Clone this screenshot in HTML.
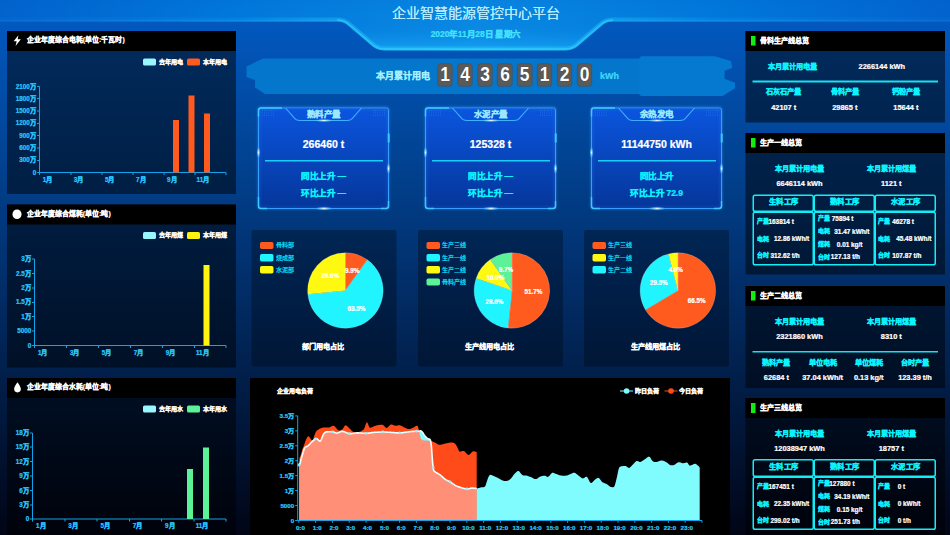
<!DOCTYPE html>
<html lang="zh-CN"><head><meta charset="utf-8"><title>企业智慧能源管控中心平台</title>
<style>
html,body{margin:0;padding:0;width:950px;height:535px;overflow:hidden;background:#010516;}
#root{position:absolute;left:0;top:0;width:1900px;height:1070px;transform:scale(0.5);transform-origin:0 0;overflow:hidden;
 font-family:"Liberation Sans", sans-serif;background:linear-gradient(to bottom,rgb(2,92,198) 0,rgb(1,5,22) 100%);}
#root div,#root svg{position:absolute;box-sizing:border-box;}
.t{white-space:nowrap;overflow:visible;font-weight:400;}
.b{font-weight:700;-webkit-text-stroke:0.45px currentColor;}
</style></head><body><div id="root">
<svg style="left:0px;top:0px" width="1900" height="112" viewBox="0 0 950 56">
<defs>
<linearGradient id="hb" x1="0" y1="0" x2="1" y2="0"><stop offset="0" stop-color="#0262cd"/><stop offset="0.26" stop-color="#0079dc"/><stop offset="0.5" stop-color="#0a88e2"/><stop offset="0.74" stop-color="#0079dc"/><stop offset="1" stop-color="#0262cd"/></linearGradient>
<linearGradient id="hv" x1="0" y1="0" x2="0" y2="1"><stop offset="0" stop-color="#0060c8" stop-opacity="0.12"/><stop offset="0.45" stop-color="#0a80e0" stop-opacity="0"/><stop offset="1" stop-color="#20b8ff" stop-opacity="0.55"/></linearGradient>
<linearGradient id="hs" x1="0" y1="0" x2="1" y2="0"><stop offset="0" stop-color="#1d7fe6" stop-opacity="0.5"/><stop offset="0.3" stop-color="#1aa0f5"/><stop offset="0.5" stop-color="#22d0ff"/><stop offset="0.7" stop-color="#1aa0f5"/><stop offset="1" stop-color="#1d7fe6" stop-opacity="0.5"/></linearGradient>
<linearGradient id="hg" gradientUnits="userSpaceOnUse" x1="0" y1="0" x2="950" y2="0"><stop offset="0" stop-color="#27d2ff" stop-opacity="0.03"/><stop offset="0.25" stop-color="#27d2ff" stop-opacity="0.1"/><stop offset="0.36" stop-color="#27d2ff" stop-opacity="0.35"/><stop offset="0.64" stop-color="#27d2ff" stop-opacity="0.35"/><stop offset="0.75" stop-color="#27d2ff" stop-opacity="0.1"/><stop offset="1" stop-color="#27d2ff" stop-opacity="0.03"/></linearGradient>
</defs>
<path d="M0,0 L950,0 L950,21 L613,21 Q606,21 601,25.5 L577,46 Q572,50 565,50 L385,50 Q378,50 373,46 L349,25.5 Q344,21 337,21 L0,21 Z" fill="url(#hb)"/>
<path d="M0,0 L950,0 L950,21 L613,21 Q606,21 601,25.5 L577,46 Q572,50 565,50 L385,50 Q378,50 373,46 L349,25.5 Q344,21 337,21 L0,21 Z" fill="url(#hv)"/>
<clipPath id="hc"><path d="M0,0 L950,0 L950,21 L613,21 Q606,21 601,25.5 L577,46 Q572,50 565,50 L385,50 Q378,50 373,46 L349,25.5 Q344,21 337,21 L0,21 Z"/></clipPath>
<g clip-path="url(#hc)"><path d="M0,21 L337,21 Q344,21 349,25.5 L373,46 Q378,50 385,50 L565,50 Q572,50 577,46 L601,25.5 Q606,21 613,21 L950,21" fill="none" stroke="url(#hg)" stroke-width="7"/><path d="M337,21 Q344,21 349,25.5 L373,46 Q378,50 385,50 L565,50 Q572,50 577,46 L601,25.5 Q606,21 613,21" fill="none" stroke="#3fe0ff" stroke-opacity="0.55" stroke-width="3.4"/></g>
<path d="M0,21 L337,21 Q344,21 349,25.5 L373,46 Q378,50 385,50 L565,50 Q572,50 577,46 L601,25.5 Q606,21 613,21 L950,21" fill="none" stroke="url(#hs)" stroke-width="1.2"/>
</svg>
<div class="t" style="left:551px;top:7.6px;width:800px;height:36.4px;line-height:36.4px;font-size:28px;color:#b4ebff;text-align:center;text-shadow:0 0 0.6px #b4ebff;">企业智慧能源管控中心平台</div>
<div class="t b" style="left:651.6px;top:56.68px;width:600px;height:21.84px;line-height:21.84px;font-size:16.8px;color:#45e0ff;text-align:center;">2020年11月28日 星期六</div>
<svg style="left:480px;top:104px" width="1000" height="100" viewBox="240 52 500 50">
<path d="M263,58.5 L639,58.5 L641,56.3 L714.5,56.3 L730.8,61 L732.3,67.8 L724.5,70.8 L724.5,78.7 L735,82.8 L735,88.3 L722.6,96 L641,96 L639,94 L265,94 L255,87.5 L255,80 L246.5,77 L246.5,66.5 Z" fill="#0476cc"/>
<path d="M639,58.5 639,58.5 L641,56.3 L714.5,56.3 L730.8,61 L732.3,67.8 L724.5,70.8 L724.5,78.7 L735,82.8 L735,88.3 L722.6,96 L641,96 L639,94 Z" fill="#0a80d6" opacity="0.3"/>
</svg>
<div class="t b" style="left:620px;top:141.3px;width:240px;height:23.4px;line-height:23.4px;font-size:18px;color:#a4f0ff;text-align:right;">本月累计用电</div>
<div style="left:875px;top:126.6px;width:30.4px;height:46.8px;background:#5a5a5a;border:1.2px solid #484848;border-radius:6px;"></div>
<div class="t b" style="left:875.2px;top:121.2px;width:30px;height:52px;line-height:52px;font-size:40px;color:#fff;text-align:center;-webkit-text-stroke:0;transform:scaleX(0.87);text-shadow:0 0 2px rgba(0,0,0,.55);">1</div>
<div style="left:914.8px;top:126.6px;width:30.4px;height:46.8px;background:#5a5a5a;border:1.2px solid #484848;border-radius:6px;"></div>
<div class="t b" style="left:915px;top:121.2px;width:30px;height:52px;line-height:52px;font-size:40px;color:#fff;text-align:center;-webkit-text-stroke:0;transform:scaleX(0.87);text-shadow:0 0 2px rgba(0,0,0,.55);">4</div>
<div style="left:954.6px;top:126.6px;width:30.4px;height:46.8px;background:#5a5a5a;border:1.2px solid #484848;border-radius:6px;"></div>
<div class="t b" style="left:954.8px;top:121.2px;width:30px;height:52px;line-height:52px;font-size:40px;color:#fff;text-align:center;-webkit-text-stroke:0;transform:scaleX(0.87);text-shadow:0 0 2px rgba(0,0,0,.55);">3</div>
<div style="left:994.4px;top:126.6px;width:30.4px;height:46.8px;background:#5a5a5a;border:1.2px solid #484848;border-radius:6px;"></div>
<div class="t b" style="left:994.6px;top:121.2px;width:30px;height:52px;line-height:52px;font-size:40px;color:#fff;text-align:center;-webkit-text-stroke:0;transform:scaleX(0.87);text-shadow:0 0 2px rgba(0,0,0,.55);">6</div>
<div style="left:1034.2px;top:126.6px;width:30.4px;height:46.8px;background:#5a5a5a;border:1.2px solid #484848;border-radius:6px;"></div>
<div class="t b" style="left:1034.4px;top:121.2px;width:30px;height:52px;line-height:52px;font-size:40px;color:#fff;text-align:center;-webkit-text-stroke:0;transform:scaleX(0.87);text-shadow:0 0 2px rgba(0,0,0,.55);">5</div>
<div style="left:1074px;top:126.6px;width:30.4px;height:46.8px;background:#5a5a5a;border:1.2px solid #484848;border-radius:6px;"></div>
<div class="t b" style="left:1074.2px;top:121.2px;width:30px;height:52px;line-height:52px;font-size:40px;color:#fff;text-align:center;-webkit-text-stroke:0;transform:scaleX(0.87);text-shadow:0 0 2px rgba(0,0,0,.55);">1</div>
<div style="left:1113.8px;top:126.6px;width:30.4px;height:46.8px;background:#5a5a5a;border:1.2px solid #484848;border-radius:6px;"></div>
<div class="t b" style="left:1114px;top:121.2px;width:30px;height:52px;line-height:52px;font-size:40px;color:#fff;text-align:center;-webkit-text-stroke:0;transform:scaleX(0.87);text-shadow:0 0 2px rgba(0,0,0,.55);">2</div>
<div style="left:1153.6px;top:126.6px;width:30.4px;height:46.8px;background:#5a5a5a;border:1.2px solid #484848;border-radius:6px;"></div>
<div class="t b" style="left:1153.8px;top:121.2px;width:30px;height:52px;line-height:52px;font-size:40px;color:#fff;text-align:center;-webkit-text-stroke:0;transform:scaleX(0.87);text-shadow:0 0 2px rgba(0,0,0,.55);">0</div>
<div class="t b" style="left:1200px;top:141.3px;width:80px;height:23.4px;line-height:23.4px;font-size:18px;color:#40d8ff;text-align:left;">kWh</div>
<div style="left:516px;top:215px;width:262px;height:203px;background:linear-gradient(to bottom,#0b55de,#05369a);border:2px solid #3a9cff;border-radius:5px;box-shadow:0 0 6px rgba(50,160,255,.7), inset 0 0 8px rgba(40,140,255,.4);"></div>
<svg style="left:516px;top:215px" width="262" height="32" viewBox="258 107.5 131 16">
<path d="M285.5,108 L294,117.7 Q296,120.5 300,120.5 L347,120.5 Q351,120.5 353,117.7 L361.5,108" fill="#0b55de" fill-opacity="0.4" stroke="#3fb0ff" stroke-width="1.1"/>
</svg>
<svg style="left:510px;top:209px;overflow:visible" width="274" height="215" viewBox="0 0 137 107.5">
<defs><radialGradient id="gl258"><stop offset="0" stop-color="#fff" stop-opacity="0.95"/><stop offset="0.35" stop-color="#9fe4ff" stop-opacity="0.7"/><stop offset="1" stop-color="#3fb4ff" stop-opacity="0"/></radialGradient></defs>
<path d="M3.5,12 L3.5,6 Q3.5,3.5 6,3.5 L27,3.5" fill="none" stroke="#3cc8ff" stroke-width="1.5"/>
<path d="M3.5,92.5 L3.5,101.5 Q3.5,104 6,104 L12,104" fill="none" stroke="#3cc8ff" stroke-width="1.5"/>
<path d="M133.5,96.5 L133.5,101.5 Q133.5,104 131,104 L126,104" fill="none" stroke="#3cc8ff" stroke-width="1.5"/>
<path d="M133.7,29 L133.7,38" stroke="#3cc8ff" stroke-width="2"/>
<ellipse cx="3.5" cy="48" rx="2.2" ry="6" fill="url(#gl258)"/>
<ellipse cx="133.5" cy="64" rx="2.2" ry="6" fill="url(#gl258)"/>
<ellipse cx="69" cy="104" rx="9" ry="2.2" fill="url(#gl258)"/>
<ellipse cx="69" cy="16" rx="10" ry="1.8" fill="url(#gl258)"/>
<rect x="7" y="6" width="0.6" height="0.6" fill="#58b8ff" opacity="0.7"/>
<rect x="129" y="6" width="0.6" height="0.6" fill="#58b8ff" opacity="0.7"/>
<rect x="7" y="8.2" width="0.6" height="0.6" fill="#58b8ff" opacity="0.7"/>
<rect x="129" y="8.2" width="0.6" height="0.6" fill="#58b8ff" opacity="0.7"/>
<rect x="7" y="10.4" width="0.6" height="0.6" fill="#58b8ff" opacity="0.7"/>
<rect x="129" y="10.4" width="0.6" height="0.6" fill="#58b8ff" opacity="0.7"/>
<rect x="9.2" y="6" width="0.6" height="0.6" fill="#58b8ff" opacity="0.7"/>
<rect x="126.8" y="6" width="0.6" height="0.6" fill="#58b8ff" opacity="0.7"/>
<rect x="9.2" y="8.2" width="0.6" height="0.6" fill="#58b8ff" opacity="0.7"/>
<rect x="126.8" y="8.2" width="0.6" height="0.6" fill="#58b8ff" opacity="0.7"/>
<rect x="9.2" y="10.4" width="0.6" height="0.6" fill="#58b8ff" opacity="0.7"/>
<rect x="126.8" y="10.4" width="0.6" height="0.6" fill="#58b8ff" opacity="0.7"/>
<rect x="11.4" y="6" width="0.6" height="0.6" fill="#58b8ff" opacity="0.7"/>
<rect x="124.6" y="6" width="0.6" height="0.6" fill="#58b8ff" opacity="0.7"/>
<rect x="11.4" y="8.2" width="0.6" height="0.6" fill="#58b8ff" opacity="0.7"/>
<rect x="124.6" y="8.2" width="0.6" height="0.6" fill="#58b8ff" opacity="0.7"/>
<rect x="11.4" y="10.4" width="0.6" height="0.6" fill="#58b8ff" opacity="0.7"/>
<rect x="124.6" y="10.4" width="0.6" height="0.6" fill="#58b8ff" opacity="0.7"/>
<rect x="13.6" y="6" width="0.6" height="0.6" fill="#58b8ff" opacity="0.7"/>
<rect x="122.4" y="6" width="0.6" height="0.6" fill="#58b8ff" opacity="0.7"/>
<rect x="13.6" y="8.2" width="0.6" height="0.6" fill="#58b8ff" opacity="0.7"/>
<rect x="122.4" y="8.2" width="0.6" height="0.6" fill="#58b8ff" opacity="0.7"/>
<rect x="13.6" y="10.4" width="0.6" height="0.6" fill="#58b8ff" opacity="0.7"/>
<rect x="122.4" y="10.4" width="0.6" height="0.6" fill="#58b8ff" opacity="0.7"/>
<rect x="15.8" y="6" width="0.6" height="0.6" fill="#58b8ff" opacity="0.7"/>
<rect x="120.2" y="6" width="0.6" height="0.6" fill="#58b8ff" opacity="0.7"/>
<rect x="15.8" y="8.2" width="0.6" height="0.6" fill="#58b8ff" opacity="0.7"/>
<rect x="120.2" y="8.2" width="0.6" height="0.6" fill="#58b8ff" opacity="0.7"/>
<rect x="15.8" y="10.4" width="0.6" height="0.6" fill="#58b8ff" opacity="0.7"/>
<rect x="120.2" y="10.4" width="0.6" height="0.6" fill="#58b8ff" opacity="0.7"/>
<rect x="18" y="6" width="0.6" height="0.6" fill="#58b8ff" opacity="0.7"/>
<rect x="118" y="6" width="0.6" height="0.6" fill="#58b8ff" opacity="0.7"/>
<rect x="18" y="8.2" width="0.6" height="0.6" fill="#58b8ff" opacity="0.7"/>
<rect x="118" y="8.2" width="0.6" height="0.6" fill="#58b8ff" opacity="0.7"/>
<rect x="18" y="10.4" width="0.6" height="0.6" fill="#58b8ff" opacity="0.7"/>
<rect x="118" y="10.4" width="0.6" height="0.6" fill="#58b8ff" opacity="0.7"/>
</svg>
<div class="t b" style="left:547px;top:216.55px;width:200px;height:22.1px;line-height:22.1px;font-size:17px;color:#9be9ff;text-align:center;">熟料产量</div>
<div class="t b" style="left:517px;top:274.35px;width:260px;height:27.3px;line-height:27.3px;font-size:21px;color:#fff;text-align:center;">266460 t</div>
<div style="left:530px;top:320.2px;width:236px;height:3px;background:#1ccdfa;"></div>
<div class="t b" style="left:517px;top:340.55px;width:260px;height:22.1px;line-height:22.1px;font-size:17px;color:#0cf4ff;text-align:center;">同比上升 —</div>
<div class="t b" style="left:517px;top:375.15px;width:260px;height:22.1px;line-height:22.1px;font-size:17px;color:#0cf4ff;text-align:center;">环比上升 —</div>
<div style="left:850px;top:215px;width:262px;height:203px;background:linear-gradient(to bottom,#0b55de,#05369a);border:2px solid #3a9cff;border-radius:5px;box-shadow:0 0 6px rgba(50,160,255,.7), inset 0 0 8px rgba(40,140,255,.4);"></div>
<svg style="left:850px;top:215px" width="262" height="32" viewBox="425 107.5 131 16">
<path d="M452.5,108 L461,117.7 Q463,120.5 467,120.5 L514,120.5 Q518,120.5 520,117.7 L528.5,108" fill="#0b55de" fill-opacity="0.4" stroke="#3fb0ff" stroke-width="1.1"/>
</svg>
<svg style="left:844px;top:209px;overflow:visible" width="274" height="215" viewBox="0 0 137 107.5">
<defs><radialGradient id="gl425"><stop offset="0" stop-color="#fff" stop-opacity="0.95"/><stop offset="0.35" stop-color="#9fe4ff" stop-opacity="0.7"/><stop offset="1" stop-color="#3fb4ff" stop-opacity="0"/></radialGradient></defs>
<path d="M3.5,12 L3.5,6 Q3.5,3.5 6,3.5 L27,3.5" fill="none" stroke="#3cc8ff" stroke-width="1.5"/>
<path d="M3.5,92.5 L3.5,101.5 Q3.5,104 6,104 L12,104" fill="none" stroke="#3cc8ff" stroke-width="1.5"/>
<path d="M133.5,96.5 L133.5,101.5 Q133.5,104 131,104 L126,104" fill="none" stroke="#3cc8ff" stroke-width="1.5"/>
<path d="M133.7,29 L133.7,38" stroke="#3cc8ff" stroke-width="2"/>
<ellipse cx="3.5" cy="48" rx="2.2" ry="6" fill="url(#gl425)"/>
<ellipse cx="133.5" cy="64" rx="2.2" ry="6" fill="url(#gl425)"/>
<ellipse cx="69" cy="104" rx="9" ry="2.2" fill="url(#gl425)"/>
<ellipse cx="69" cy="16" rx="10" ry="1.8" fill="url(#gl425)"/>
<rect x="7" y="6" width="0.6" height="0.6" fill="#58b8ff" opacity="0.7"/>
<rect x="129" y="6" width="0.6" height="0.6" fill="#58b8ff" opacity="0.7"/>
<rect x="7" y="8.2" width="0.6" height="0.6" fill="#58b8ff" opacity="0.7"/>
<rect x="129" y="8.2" width="0.6" height="0.6" fill="#58b8ff" opacity="0.7"/>
<rect x="7" y="10.4" width="0.6" height="0.6" fill="#58b8ff" opacity="0.7"/>
<rect x="129" y="10.4" width="0.6" height="0.6" fill="#58b8ff" opacity="0.7"/>
<rect x="9.2" y="6" width="0.6" height="0.6" fill="#58b8ff" opacity="0.7"/>
<rect x="126.8" y="6" width="0.6" height="0.6" fill="#58b8ff" opacity="0.7"/>
<rect x="9.2" y="8.2" width="0.6" height="0.6" fill="#58b8ff" opacity="0.7"/>
<rect x="126.8" y="8.2" width="0.6" height="0.6" fill="#58b8ff" opacity="0.7"/>
<rect x="9.2" y="10.4" width="0.6" height="0.6" fill="#58b8ff" opacity="0.7"/>
<rect x="126.8" y="10.4" width="0.6" height="0.6" fill="#58b8ff" opacity="0.7"/>
<rect x="11.4" y="6" width="0.6" height="0.6" fill="#58b8ff" opacity="0.7"/>
<rect x="124.6" y="6" width="0.6" height="0.6" fill="#58b8ff" opacity="0.7"/>
<rect x="11.4" y="8.2" width="0.6" height="0.6" fill="#58b8ff" opacity="0.7"/>
<rect x="124.6" y="8.2" width="0.6" height="0.6" fill="#58b8ff" opacity="0.7"/>
<rect x="11.4" y="10.4" width="0.6" height="0.6" fill="#58b8ff" opacity="0.7"/>
<rect x="124.6" y="10.4" width="0.6" height="0.6" fill="#58b8ff" opacity="0.7"/>
<rect x="13.6" y="6" width="0.6" height="0.6" fill="#58b8ff" opacity="0.7"/>
<rect x="122.4" y="6" width="0.6" height="0.6" fill="#58b8ff" opacity="0.7"/>
<rect x="13.6" y="8.2" width="0.6" height="0.6" fill="#58b8ff" opacity="0.7"/>
<rect x="122.4" y="8.2" width="0.6" height="0.6" fill="#58b8ff" opacity="0.7"/>
<rect x="13.6" y="10.4" width="0.6" height="0.6" fill="#58b8ff" opacity="0.7"/>
<rect x="122.4" y="10.4" width="0.6" height="0.6" fill="#58b8ff" opacity="0.7"/>
<rect x="15.8" y="6" width="0.6" height="0.6" fill="#58b8ff" opacity="0.7"/>
<rect x="120.2" y="6" width="0.6" height="0.6" fill="#58b8ff" opacity="0.7"/>
<rect x="15.8" y="8.2" width="0.6" height="0.6" fill="#58b8ff" opacity="0.7"/>
<rect x="120.2" y="8.2" width="0.6" height="0.6" fill="#58b8ff" opacity="0.7"/>
<rect x="15.8" y="10.4" width="0.6" height="0.6" fill="#58b8ff" opacity="0.7"/>
<rect x="120.2" y="10.4" width="0.6" height="0.6" fill="#58b8ff" opacity="0.7"/>
<rect x="18" y="6" width="0.6" height="0.6" fill="#58b8ff" opacity="0.7"/>
<rect x="118" y="6" width="0.6" height="0.6" fill="#58b8ff" opacity="0.7"/>
<rect x="18" y="8.2" width="0.6" height="0.6" fill="#58b8ff" opacity="0.7"/>
<rect x="118" y="8.2" width="0.6" height="0.6" fill="#58b8ff" opacity="0.7"/>
<rect x="18" y="10.4" width="0.6" height="0.6" fill="#58b8ff" opacity="0.7"/>
<rect x="118" y="10.4" width="0.6" height="0.6" fill="#58b8ff" opacity="0.7"/>
</svg>
<div class="t b" style="left:881px;top:216.55px;width:200px;height:22.1px;line-height:22.1px;font-size:17px;color:#9be9ff;text-align:center;">水泥产量</div>
<div class="t b" style="left:851px;top:274.35px;width:260px;height:27.3px;line-height:27.3px;font-size:21px;color:#fff;text-align:center;">125328 t</div>
<div style="left:864px;top:320.2px;width:236px;height:3px;background:#1ccdfa;"></div>
<div class="t b" style="left:851px;top:340.55px;width:260px;height:22.1px;line-height:22.1px;font-size:17px;color:#0cf4ff;text-align:center;">同比上升 —</div>
<div class="t b" style="left:851px;top:375.15px;width:260px;height:22.1px;line-height:22.1px;font-size:17px;color:#0cf4ff;text-align:center;">环比上升 —</div>
<div style="left:1182px;top:215px;width:262px;height:203px;background:linear-gradient(to bottom,#0b55de,#05369a);border:2px solid #3a9cff;border-radius:5px;box-shadow:0 0 6px rgba(50,160,255,.7), inset 0 0 8px rgba(40,140,255,.4);"></div>
<svg style="left:1182px;top:215px" width="262" height="32" viewBox="591 107.5 131 16">
<path d="M618.5,108 L627,117.7 Q629,120.5 633,120.5 L680,120.5 Q684,120.5 686,117.7 L694.5,108" fill="#0b55de" fill-opacity="0.4" stroke="#3fb0ff" stroke-width="1.1"/>
</svg>
<svg style="left:1176px;top:209px;overflow:visible" width="274" height="215" viewBox="0 0 137 107.5">
<defs><radialGradient id="gl591"><stop offset="0" stop-color="#fff" stop-opacity="0.95"/><stop offset="0.35" stop-color="#9fe4ff" stop-opacity="0.7"/><stop offset="1" stop-color="#3fb4ff" stop-opacity="0"/></radialGradient></defs>
<path d="M3.5,12 L3.5,6 Q3.5,3.5 6,3.5 L27,3.5" fill="none" stroke="#3cc8ff" stroke-width="1.5"/>
<path d="M3.5,92.5 L3.5,101.5 Q3.5,104 6,104 L12,104" fill="none" stroke="#3cc8ff" stroke-width="1.5"/>
<path d="M133.5,96.5 L133.5,101.5 Q133.5,104 131,104 L126,104" fill="none" stroke="#3cc8ff" stroke-width="1.5"/>
<path d="M133.7,29 L133.7,38" stroke="#3cc8ff" stroke-width="2"/>
<ellipse cx="3.5" cy="48" rx="2.2" ry="6" fill="url(#gl591)"/>
<ellipse cx="133.5" cy="64" rx="2.2" ry="6" fill="url(#gl591)"/>
<ellipse cx="69" cy="104" rx="9" ry="2.2" fill="url(#gl591)"/>
<ellipse cx="69" cy="16" rx="10" ry="1.8" fill="url(#gl591)"/>
<rect x="7" y="6" width="0.6" height="0.6" fill="#58b8ff" opacity="0.7"/>
<rect x="129" y="6" width="0.6" height="0.6" fill="#58b8ff" opacity="0.7"/>
<rect x="7" y="8.2" width="0.6" height="0.6" fill="#58b8ff" opacity="0.7"/>
<rect x="129" y="8.2" width="0.6" height="0.6" fill="#58b8ff" opacity="0.7"/>
<rect x="7" y="10.4" width="0.6" height="0.6" fill="#58b8ff" opacity="0.7"/>
<rect x="129" y="10.4" width="0.6" height="0.6" fill="#58b8ff" opacity="0.7"/>
<rect x="9.2" y="6" width="0.6" height="0.6" fill="#58b8ff" opacity="0.7"/>
<rect x="126.8" y="6" width="0.6" height="0.6" fill="#58b8ff" opacity="0.7"/>
<rect x="9.2" y="8.2" width="0.6" height="0.6" fill="#58b8ff" opacity="0.7"/>
<rect x="126.8" y="8.2" width="0.6" height="0.6" fill="#58b8ff" opacity="0.7"/>
<rect x="9.2" y="10.4" width="0.6" height="0.6" fill="#58b8ff" opacity="0.7"/>
<rect x="126.8" y="10.4" width="0.6" height="0.6" fill="#58b8ff" opacity="0.7"/>
<rect x="11.4" y="6" width="0.6" height="0.6" fill="#58b8ff" opacity="0.7"/>
<rect x="124.6" y="6" width="0.6" height="0.6" fill="#58b8ff" opacity="0.7"/>
<rect x="11.4" y="8.2" width="0.6" height="0.6" fill="#58b8ff" opacity="0.7"/>
<rect x="124.6" y="8.2" width="0.6" height="0.6" fill="#58b8ff" opacity="0.7"/>
<rect x="11.4" y="10.4" width="0.6" height="0.6" fill="#58b8ff" opacity="0.7"/>
<rect x="124.6" y="10.4" width="0.6" height="0.6" fill="#58b8ff" opacity="0.7"/>
<rect x="13.6" y="6" width="0.6" height="0.6" fill="#58b8ff" opacity="0.7"/>
<rect x="122.4" y="6" width="0.6" height="0.6" fill="#58b8ff" opacity="0.7"/>
<rect x="13.6" y="8.2" width="0.6" height="0.6" fill="#58b8ff" opacity="0.7"/>
<rect x="122.4" y="8.2" width="0.6" height="0.6" fill="#58b8ff" opacity="0.7"/>
<rect x="13.6" y="10.4" width="0.6" height="0.6" fill="#58b8ff" opacity="0.7"/>
<rect x="122.4" y="10.4" width="0.6" height="0.6" fill="#58b8ff" opacity="0.7"/>
<rect x="15.8" y="6" width="0.6" height="0.6" fill="#58b8ff" opacity="0.7"/>
<rect x="120.2" y="6" width="0.6" height="0.6" fill="#58b8ff" opacity="0.7"/>
<rect x="15.8" y="8.2" width="0.6" height="0.6" fill="#58b8ff" opacity="0.7"/>
<rect x="120.2" y="8.2" width="0.6" height="0.6" fill="#58b8ff" opacity="0.7"/>
<rect x="15.8" y="10.4" width="0.6" height="0.6" fill="#58b8ff" opacity="0.7"/>
<rect x="120.2" y="10.4" width="0.6" height="0.6" fill="#58b8ff" opacity="0.7"/>
<rect x="18" y="6" width="0.6" height="0.6" fill="#58b8ff" opacity="0.7"/>
<rect x="118" y="6" width="0.6" height="0.6" fill="#58b8ff" opacity="0.7"/>
<rect x="18" y="8.2" width="0.6" height="0.6" fill="#58b8ff" opacity="0.7"/>
<rect x="118" y="8.2" width="0.6" height="0.6" fill="#58b8ff" opacity="0.7"/>
<rect x="18" y="10.4" width="0.6" height="0.6" fill="#58b8ff" opacity="0.7"/>
<rect x="118" y="10.4" width="0.6" height="0.6" fill="#58b8ff" opacity="0.7"/>
</svg>
<div class="t b" style="left:1213px;top:216.55px;width:200px;height:22.1px;line-height:22.1px;font-size:17px;color:#9be9ff;text-align:center;">余热发电</div>
<div class="t b" style="left:1183px;top:274.35px;width:260px;height:27.3px;line-height:27.3px;font-size:21px;color:#fff;text-align:center;">11144750 kWh</div>
<div style="left:1196px;top:320.2px;width:236px;height:3px;background:#1ccdfa;"></div>
<div class="t b" style="left:1183px;top:340.55px;width:260px;height:22.1px;line-height:22.1px;font-size:17px;color:#0cf4ff;text-align:center;">同比上升</div>
<div class="t b" style="left:1183px;top:375.15px;width:260px;height:22.1px;line-height:22.1px;font-size:17px;color:#0cf4ff;text-align:center;">环比上升 72.9</div>
<div style="left:503px;top:460px;width:290px;height:273px;background:rgba(0,0,0,.3);border-radius:4px;"></div>
<svg style="left:503px;top:460px" width="290" height="273" viewBox="251.5 230 145 136.5">
<path d="M345.4,290.5 L345.4,252.75 A37.75,37.75 0 0 1 367.4,259.82 Z" fill="#ff5b1f" stroke="#fff" stroke-opacity="0.55" stroke-width="0.35"/>
<path d="M345.4,290.5 L367.4,259.82 A37.75,37.75 0 1 1 307.84,294.29 Z" fill="#1ff4ff" stroke="#fff" stroke-opacity="0.55" stroke-width="0.35"/>
<path d="M345.4,290.5 L307.84,294.29 A37.75,37.75 0 0 1 345.4,252.75 Z" fill="#fff912" stroke="#fff" stroke-opacity="0.55" stroke-width="0.35"/>
</svg>
<div class="t b" style="left:664.54px;top:532.56px;width:80px;height:16.38px;line-height:16.38px;font-size:12.6px;color:#fff;text-align:center;">9.9%</div>
<div class="t b" style="left:672.78px;top:609.4px;width:80px;height:16.38px;line-height:16.38px;font-size:12.6px;color:#fff;text-align:center;">63.5%</div>
<div class="t b" style="left:620.24px;top:544.45px;width:80px;height:16.38px;line-height:16.38px;font-size:12.6px;color:#fff;text-align:center;">26.6%</div>
<div style="left:520.2px;top:483.8px;width:27px;height:14.6px;background:#ff5b1f;border-radius:3.4px;"></div>
<div class="t" style="left:551px;top:483.33px;width:120px;height:15.73px;line-height:15.73px;font-size:12.1px;color:#10e8ff;text-align:left;-webkit-text-stroke:0.35px currentColor;">骨料部</div>
<div style="left:520.2px;top:508.1px;width:27px;height:14.6px;background:#1ff4ff;border-radius:3.4px;"></div>
<div class="t" style="left:551px;top:507.63px;width:120px;height:15.73px;line-height:15.73px;font-size:12.1px;color:#10e8ff;text-align:left;-webkit-text-stroke:0.35px currentColor;">烧成部</div>
<div style="left:520.2px;top:532.4px;width:27px;height:14.6px;background:#fff912;border-radius:3.4px;"></div>
<div class="t" style="left:551px;top:531.93px;width:120px;height:15.73px;line-height:15.73px;font-size:12.1px;color:#10e8ff;text-align:left;-webkit-text-stroke:0.35px currentColor;">水泥部</div>
<div class="t b" style="left:505px;top:683.5px;width:280px;height:18.59px;line-height:18.59px;font-size:14.3px;color:#fff;text-align:center;">部门用电占比</div>
<div style="left:836px;top:460px;width:290px;height:273px;background:rgba(0,0,0,.3);border-radius:4px;"></div>
<svg style="left:836px;top:460px" width="290" height="273" viewBox="418 230 145 136.5">
<path d="M511.9,290.5 L511.9,252.75 A37.75,37.75 0 1 1 507.88,328.03 Z" fill="#ff5b1f" stroke="#fff" stroke-opacity="0.55" stroke-width="0.35"/>
<path d="M511.9,290.5 L507.88,328.03 A37.75,37.75 0 0 1 476.22,278.16 Z" fill="#1ff4ff" stroke="#fff" stroke-opacity="0.55" stroke-width="0.35"/>
<path d="M511.9,290.5 L476.22,278.16 A37.75,37.75 0 0 1 490.29,259.55 Z" fill="#fff912" stroke="#fff" stroke-opacity="0.55" stroke-width="0.35"/>
<path d="M511.9,290.5 L490.29,259.55 A37.75,37.75 0 0 1 511.9,252.75 Z" fill="#5cf297" stroke="#fff" stroke-opacity="0.55" stroke-width="0.35"/>
</svg>
<div class="t b" style="left:1026.82px;top:575.07px;width:80px;height:16.38px;line-height:16.38px;font-size:12.6px;color:#fff;text-align:center;">51.7%</div>
<div class="t b" style="left:948.9px;top:595.46px;width:80px;height:16.38px;line-height:16.38px;font-size:12.6px;color:#fff;text-align:center;">28.6%</div>
<div class="t b" style="left:950.87px;top:547.32px;width:80px;height:16.38px;line-height:16.38px;font-size:12.6px;color:#fff;text-align:center;">10.0%</div>
<div class="t b" style="left:971.91px;top:532.48px;width:80px;height:16.38px;line-height:16.38px;font-size:12.6px;color:#fff;text-align:center;">9.7%</div>
<div style="left:853.2px;top:483.8px;width:27px;height:14.6px;background:#ff5b1f;border-radius:3.4px;"></div>
<div class="t" style="left:884px;top:483.33px;width:120px;height:15.73px;line-height:15.73px;font-size:12.1px;color:#10e8ff;text-align:left;-webkit-text-stroke:0.35px currentColor;">生产三线</div>
<div style="left:853.2px;top:508.1px;width:27px;height:14.6px;background:#1ff4ff;border-radius:3.4px;"></div>
<div class="t" style="left:884px;top:507.63px;width:120px;height:15.73px;line-height:15.73px;font-size:12.1px;color:#10e8ff;text-align:left;-webkit-text-stroke:0.35px currentColor;">生产一线</div>
<div style="left:853.2px;top:532.4px;width:27px;height:14.6px;background:#fff912;border-radius:3.4px;"></div>
<div class="t" style="left:884px;top:531.93px;width:120px;height:15.73px;line-height:15.73px;font-size:12.1px;color:#10e8ff;text-align:left;-webkit-text-stroke:0.35px currentColor;">生产二线</div>
<div style="left:853.2px;top:556.7px;width:27px;height:14.6px;background:#5cf297;border-radius:3.4px;"></div>
<div class="t" style="left:884px;top:556.24px;width:120px;height:15.73px;line-height:15.73px;font-size:12.1px;color:#10e8ff;text-align:left;-webkit-text-stroke:0.35px currentColor;">骨料产线</div>
<div class="t b" style="left:838px;top:683.5px;width:280px;height:18.59px;line-height:18.59px;font-size:14.3px;color:#fff;text-align:center;">生产线用电占比</div>
<div style="left:1168px;top:460px;width:290px;height:273px;background:rgba(0,0,0,.3);border-radius:4px;"></div>
<svg style="left:1168px;top:460px" width="290" height="273" viewBox="584 230 145 136.5">
<path d="M677.9,290.5 L677.9,252.75 A37.75,37.75 0 1 1 645.41,309.72 Z" fill="#ff5b1f" stroke="#fff" stroke-opacity="0.55" stroke-width="0.35"/>
<path d="M677.9,290.5 L645.41,309.72 A37.75,37.75 0 0 1 668.51,253.94 Z" fill="#1ff4ff" stroke="#fff" stroke-opacity="0.55" stroke-width="0.35"/>
<path d="M677.9,290.5 L668.51,253.94 A37.75,37.75 0 0 1 677.9,252.75 Z" fill="#fff912" stroke="#fff" stroke-opacity="0.55" stroke-width="0.35"/>
</svg>
<div class="t b" style="left:1353.33px;top:593.76px;width:80px;height:16.38px;line-height:16.38px;font-size:12.6px;color:#fff;text-align:center;">66.5%</div>
<div class="t b" style="left:1277.54px;top:556.63px;width:80px;height:16.38px;line-height:16.38px;font-size:12.6px;color:#fff;text-align:center;">29.5%</div>
<div class="t b" style="left:1311.3px;top:530.86px;width:80px;height:16.38px;line-height:16.38px;font-size:12.6px;color:#fff;text-align:center;">4.0%</div>
<div style="left:1185.2px;top:483.8px;width:27px;height:14.6px;background:#ff5b1f;border-radius:3.4px;"></div>
<div class="t" style="left:1216px;top:483.33px;width:120px;height:15.73px;line-height:15.73px;font-size:12.1px;color:#10e8ff;text-align:left;-webkit-text-stroke:0.35px currentColor;">生产三线</div>
<div style="left:1185.2px;top:508.1px;width:27px;height:14.6px;background:#fff912;border-radius:3.4px;"></div>
<div class="t" style="left:1216px;top:507.63px;width:120px;height:15.73px;line-height:15.73px;font-size:12.1px;color:#10e8ff;text-align:left;-webkit-text-stroke:0.35px currentColor;">生产一线</div>
<div style="left:1185.2px;top:532.4px;width:27px;height:14.6px;background:#1ff4ff;border-radius:3.4px;"></div>
<div class="t" style="left:1216px;top:531.93px;width:120px;height:15.73px;line-height:15.73px;font-size:12.1px;color:#10e8ff;text-align:left;-webkit-text-stroke:0.35px currentColor;">生产二线</div>
<div class="t b" style="left:1170px;top:683.5px;width:280px;height:18.59px;line-height:18.59px;font-size:14.3px;color:#fff;text-align:center;">生产线用煤占比</div>
<div style="left:14px;top:62px;width:458px;height:326px;background:rgba(0,0,0,.5);"></div>
<div style="left:14px;top:62px;width:458px;height:40px;background:#000;"></div>
<svg style="left:25px;top:70.4px" width="19" height="22.8" viewBox="0 0 10 12"><path d="M6.2,0.3 L1.2,6.6 L4.4,6.6 L3.2,11.7 L8.8,4.6 L5.5,4.6 Z" fill="#fff"/></svg>
<div class="t b" style="left:53.6px;top:71.23px;width:400px;height:17.94px;line-height:17.94px;font-size:13.8px;color:#fff;text-align:left;">企业年度综合电耗(单位:千瓦时)</div>
<div style="left:286px;top:117px;width:25.8px;height:14.4px;background:#98f6ff;border-radius:3.2px;"></div>
<div class="t b" style="left:317px;top:116.34px;width:80px;height:15.73px;line-height:15.73px;font-size:12.1px;color:#fff;text-align:left;">去年用电</div>
<div style="left:374.2px;top:117px;width:25.8px;height:14.4px;background:#ff5b1f;border-radius:3.2px;"></div>
<div class="t b" style="left:405.6px;top:116.34px;width:80px;height:15.73px;line-height:15.73px;font-size:12.1px;color:#fff;text-align:left;">本年用电</div>
<div style="left:78.4px;top:172.72px;width:2px;height:173.48px;background:#12a4ea;"></div>
<div style="left:78.4px;top:344.2px;width:374px;height:2px;background:#12a4ea;"></div>
<div style="left:74.4px;top:344.2px;width:5px;height:2px;background:#12a4ea;"></div>
<div class="t b" style="left:-7.6px;top:337.01px;width:80px;height:16.38px;line-height:16.38px;font-size:12.6px;color:#2ac6ff;text-align:right;">0</div>
<div style="left:74.4px;top:319.56px;width:5px;height:2px;background:#12a4ea;"></div>
<div class="t b" style="left:-7.6px;top:312.37px;width:80px;height:16.38px;line-height:16.38px;font-size:12.6px;color:#2ac6ff;text-align:right;">300万</div>
<div style="left:74.4px;top:294.92px;width:5px;height:2px;background:#12a4ea;"></div>
<div class="t b" style="left:-7.6px;top:287.73px;width:80px;height:16.38px;line-height:16.38px;font-size:12.6px;color:#2ac6ff;text-align:right;">600万</div>
<div style="left:74.4px;top:270.28px;width:5px;height:2px;background:#12a4ea;"></div>
<div class="t b" style="left:-7.6px;top:263.09px;width:80px;height:16.38px;line-height:16.38px;font-size:12.6px;color:#2ac6ff;text-align:right;">900万</div>
<div style="left:74.4px;top:245.64px;width:5px;height:2px;background:#12a4ea;"></div>
<div class="t b" style="left:-7.6px;top:238.45px;width:80px;height:16.38px;line-height:16.38px;font-size:12.6px;color:#2ac6ff;text-align:right;">1200万</div>
<div style="left:74.4px;top:221px;width:5px;height:2px;background:#12a4ea;"></div>
<div class="t b" style="left:-7.6px;top:213.81px;width:80px;height:16.38px;line-height:16.38px;font-size:12.6px;color:#2ac6ff;text-align:right;">1500万</div>
<div style="left:74.4px;top:196.36px;width:5px;height:2px;background:#12a4ea;"></div>
<div class="t b" style="left:-7.6px;top:189.17px;width:80px;height:16.38px;line-height:16.38px;font-size:12.6px;color:#2ac6ff;text-align:right;">1800万</div>
<div style="left:74.4px;top:171.72px;width:5px;height:2px;background:#12a4ea;"></div>
<div class="t b" style="left:-7.6px;top:164.53px;width:80px;height:16.38px;line-height:16.38px;font-size:12.6px;color:#2ac6ff;text-align:right;">2100万</div>
<div style="left:78.4px;top:345.2px;width:2px;height:4.6px;background:#12a4ea;"></div>
<div style="left:140.57px;top:345.2px;width:2px;height:4.6px;background:#12a4ea;"></div>
<div style="left:202.73px;top:345.2px;width:2px;height:4.6px;background:#12a4ea;"></div>
<div style="left:264.9px;top:345.2px;width:2px;height:4.6px;background:#12a4ea;"></div>
<div style="left:327.07px;top:345.2px;width:2px;height:4.6px;background:#12a4ea;"></div>
<div style="left:389.23px;top:345.2px;width:2px;height:4.6px;background:#12a4ea;"></div>
<div style="left:451.4px;top:345.2px;width:2px;height:4.6px;background:#12a4ea;"></div>
<div class="t b" style="left:65.54px;top:351.01px;width:60px;height:16.38px;line-height:16.38px;font-size:12.6px;color:#2ac6ff;text-align:center;">1月</div>
<div class="t b" style="left:127.71px;top:351.01px;width:60px;height:16.38px;line-height:16.38px;font-size:12.6px;color:#2ac6ff;text-align:center;">3月</div>
<div class="t b" style="left:189.88px;top:351.01px;width:60px;height:16.38px;line-height:16.38px;font-size:12.6px;color:#2ac6ff;text-align:center;">5月</div>
<div class="t b" style="left:252.04px;top:351.01px;width:60px;height:16.38px;line-height:16.38px;font-size:12.6px;color:#2ac6ff;text-align:center;">7月</div>
<div class="t b" style="left:314.21px;top:351.01px;width:60px;height:16.38px;line-height:16.38px;font-size:12.6px;color:#2ac6ff;text-align:center;">9月</div>
<div class="t b" style="left:376.38px;top:351.01px;width:60px;height:16.38px;line-height:16.38px;font-size:12.6px;color:#2ac6ff;text-align:center;">11月</div>
<div style="left:345.81px;top:240px;width:12px;height:105.2px;background:#ff5b1f;"></div>
<div style="left:376.89px;top:190.8px;width:12px;height:154.4px;background:#ff5b1f;"></div>
<div style="left:407.97px;top:227.2px;width:12px;height:118px;background:#ff5b1f;"></div>
<div style="left:14px;top:408.6px;width:458px;height:326px;background:rgba(0,0,0,.5);"></div>
<div style="left:14px;top:408.6px;width:458px;height:40px;background:#000;"></div>
<div style="left:24.6px;top:419.2px;width:18.8px;height:18.8px;border-radius:50%;background:#fff;"></div>
<div class="t b" style="left:53.6px;top:417.83px;width:400px;height:17.94px;line-height:17.94px;font-size:13.8px;color:#fff;text-align:left;">企业年度综合煤耗(单位:吨)</div>
<div style="left:286px;top:463.6px;width:25.8px;height:14.4px;background:#98f6ff;border-radius:3.2px;"></div>
<div class="t b" style="left:317px;top:462.94px;width:80px;height:15.73px;line-height:15.73px;font-size:12.1px;color:#fff;text-align:left;">去年用煤</div>
<div style="left:374.2px;top:463.6px;width:25.8px;height:14.4px;background:#fff30f;border-radius:3.2px;"></div>
<div class="t b" style="left:405.6px;top:462.94px;width:80px;height:15.73px;line-height:15.73px;font-size:12.1px;color:#fff;text-align:left;">本年用煤</div>
<div style="left:68.4px;top:518.2px;width:2px;height:173.8px;background:#12a4ea;"></div>
<div style="left:68.4px;top:690px;width:384px;height:2px;background:#12a4ea;"></div>
<div style="left:64.4px;top:690px;width:5px;height:2px;background:#12a4ea;"></div>
<div class="t b" style="left:-17.6px;top:682.81px;width:80px;height:16.38px;line-height:16.38px;font-size:12.6px;color:#2ac6ff;text-align:right;">0</div>
<div style="left:64.4px;top:661.2px;width:5px;height:2px;background:#12a4ea;"></div>
<div class="t b" style="left:-17.6px;top:654.01px;width:80px;height:16.38px;line-height:16.38px;font-size:12.6px;color:#2ac6ff;text-align:right;">5000</div>
<div style="left:64.4px;top:632.4px;width:5px;height:2px;background:#12a4ea;"></div>
<div class="t b" style="left:-17.6px;top:625.21px;width:80px;height:16.38px;line-height:16.38px;font-size:12.6px;color:#2ac6ff;text-align:right;">1万</div>
<div style="left:64.4px;top:603.6px;width:5px;height:2px;background:#12a4ea;"></div>
<div class="t b" style="left:-17.6px;top:596.41px;width:80px;height:16.38px;line-height:16.38px;font-size:12.6px;color:#2ac6ff;text-align:right;">1.5万</div>
<div style="left:64.4px;top:574.8px;width:5px;height:2px;background:#12a4ea;"></div>
<div class="t b" style="left:-17.6px;top:567.61px;width:80px;height:16.38px;line-height:16.38px;font-size:12.6px;color:#2ac6ff;text-align:right;">2万</div>
<div style="left:64.4px;top:546px;width:5px;height:2px;background:#12a4ea;"></div>
<div class="t b" style="left:-17.6px;top:538.81px;width:80px;height:16.38px;line-height:16.38px;font-size:12.6px;color:#2ac6ff;text-align:right;">2.5万</div>
<div style="left:64.4px;top:517.2px;width:5px;height:2px;background:#12a4ea;"></div>
<div class="t b" style="left:-17.6px;top:510.01px;width:80px;height:16.38px;line-height:16.38px;font-size:12.6px;color:#2ac6ff;text-align:right;">3万</div>
<div style="left:68.4px;top:691px;width:2px;height:4.6px;background:#12a4ea;"></div>
<div style="left:132.23px;top:691px;width:2px;height:4.6px;background:#12a4ea;"></div>
<div style="left:196.07px;top:691px;width:2px;height:4.6px;background:#12a4ea;"></div>
<div style="left:259.9px;top:691px;width:2px;height:4.6px;background:#12a4ea;"></div>
<div style="left:323.73px;top:691px;width:2px;height:4.6px;background:#12a4ea;"></div>
<div style="left:387.57px;top:691px;width:2px;height:4.6px;background:#12a4ea;"></div>
<div style="left:451.4px;top:691px;width:2px;height:4.6px;background:#12a4ea;"></div>
<div class="t b" style="left:55.96px;top:696.81px;width:60px;height:16.38px;line-height:16.38px;font-size:12.6px;color:#2ac6ff;text-align:center;">1月</div>
<div class="t b" style="left:119.79px;top:696.81px;width:60px;height:16.38px;line-height:16.38px;font-size:12.6px;color:#2ac6ff;text-align:center;">3月</div>
<div class="t b" style="left:183.62px;top:696.81px;width:60px;height:16.38px;line-height:16.38px;font-size:12.6px;color:#2ac6ff;text-align:center;">5月</div>
<div class="t b" style="left:247.46px;top:696.81px;width:60px;height:16.38px;line-height:16.38px;font-size:12.6px;color:#2ac6ff;text-align:center;">7月</div>
<div class="t b" style="left:311.29px;top:696.81px;width:60px;height:16.38px;line-height:16.38px;font-size:12.6px;color:#2ac6ff;text-align:center;">9月</div>
<div class="t b" style="left:375.12px;top:696.81px;width:60px;height:16.38px;line-height:16.38px;font-size:12.6px;color:#2ac6ff;text-align:center;">11月</div>
<div style="left:406.72px;top:530px;width:12px;height:161px;background:#fff30f;"></div>
<div style="left:14px;top:756px;width:458px;height:314px;background:rgba(0,0,0,.5);"></div>
<div style="left:14px;top:756px;width:458px;height:40px;background:#000;"></div>
<svg style="left:25.8px;top:764.4px" width="18" height="21.8" viewBox="0 0 10 12"><path d="M5,0.3 C5,0.3 1.3,5 1.3,7.8 A3.7,3.7 0 0 0 8.7,7.8 C8.7,5 5,0.3 5,0.3 Z" fill="#fff"/></svg>
<div class="t b" style="left:53.6px;top:765.23px;width:400px;height:17.94px;line-height:17.94px;font-size:13.8px;color:#fff;text-align:left;">企业年度综合水耗(单位:吨)</div>
<div style="left:286px;top:811px;width:25.8px;height:14.4px;background:#98f6ff;border-radius:3.2px;"></div>
<div class="t b" style="left:317px;top:810.34px;width:80px;height:15.73px;line-height:15.73px;font-size:12.1px;color:#fff;text-align:left;">去年用水</div>
<div style="left:374.2px;top:811px;width:25.8px;height:14.4px;background:#5cf297;border-radius:3.2px;"></div>
<div class="t b" style="left:405.6px;top:810.34px;width:80px;height:15.73px;line-height:15.73px;font-size:12.1px;color:#fff;text-align:left;">本年用水</div>
<div style="left:64.4px;top:865.6px;width:2px;height:173.8px;background:#12a4ea;"></div>
<div style="left:64.4px;top:1037.4px;width:388px;height:2px;background:#12a4ea;"></div>
<div style="left:60.4px;top:1037.4px;width:5px;height:2px;background:#12a4ea;"></div>
<div class="t b" style="left:-21.6px;top:1030.21px;width:80px;height:16.38px;line-height:16.38px;font-size:12.6px;color:#2ac6ff;text-align:right;">0</div>
<div style="left:60.4px;top:1008.6px;width:5px;height:2px;background:#12a4ea;"></div>
<div class="t b" style="left:-21.6px;top:1001.41px;width:80px;height:16.38px;line-height:16.38px;font-size:12.6px;color:#2ac6ff;text-align:right;">3万</div>
<div style="left:60.4px;top:979.8px;width:5px;height:2px;background:#12a4ea;"></div>
<div class="t b" style="left:-21.6px;top:972.61px;width:80px;height:16.38px;line-height:16.38px;font-size:12.6px;color:#2ac6ff;text-align:right;">6万</div>
<div style="left:60.4px;top:951px;width:5px;height:2px;background:#12a4ea;"></div>
<div class="t b" style="left:-21.6px;top:943.81px;width:80px;height:16.38px;line-height:16.38px;font-size:12.6px;color:#2ac6ff;text-align:right;">9万</div>
<div style="left:60.4px;top:922.2px;width:5px;height:2px;background:#12a4ea;"></div>
<div class="t b" style="left:-21.6px;top:915.01px;width:80px;height:16.38px;line-height:16.38px;font-size:12.6px;color:#2ac6ff;text-align:right;">12万</div>
<div style="left:60.4px;top:893.4px;width:5px;height:2px;background:#12a4ea;"></div>
<div class="t b" style="left:-21.6px;top:886.21px;width:80px;height:16.38px;line-height:16.38px;font-size:12.6px;color:#2ac6ff;text-align:right;">15万</div>
<div style="left:60.4px;top:864.6px;width:5px;height:2px;background:#12a4ea;"></div>
<div class="t b" style="left:-21.6px;top:857.41px;width:80px;height:16.38px;line-height:16.38px;font-size:12.6px;color:#2ac6ff;text-align:right;">18万</div>
<div style="left:64.4px;top:1038.4px;width:2px;height:4.6px;background:#12a4ea;"></div>
<div style="left:128.9px;top:1038.4px;width:2px;height:4.6px;background:#12a4ea;"></div>
<div style="left:193.4px;top:1038.4px;width:2px;height:4.6px;background:#12a4ea;"></div>
<div style="left:257.9px;top:1038.4px;width:2px;height:4.6px;background:#12a4ea;"></div>
<div style="left:322.4px;top:1038.4px;width:2px;height:4.6px;background:#12a4ea;"></div>
<div style="left:386.9px;top:1038.4px;width:2px;height:4.6px;background:#12a4ea;"></div>
<div style="left:451.4px;top:1038.4px;width:2px;height:4.6px;background:#12a4ea;"></div>
<div class="t b" style="left:52.12px;top:1044.21px;width:60px;height:16.38px;line-height:16.38px;font-size:12.6px;color:#2ac6ff;text-align:center;">1月</div>
<div class="t b" style="left:116.62px;top:1044.21px;width:60px;height:16.38px;line-height:16.38px;font-size:12.6px;color:#2ac6ff;text-align:center;">3月</div>
<div class="t b" style="left:181.12px;top:1044.21px;width:60px;height:16.38px;line-height:16.38px;font-size:12.6px;color:#2ac6ff;text-align:center;">5月</div>
<div class="t b" style="left:245.62px;top:1044.21px;width:60px;height:16.38px;line-height:16.38px;font-size:12.6px;color:#2ac6ff;text-align:center;">7月</div>
<div class="t b" style="left:310.12px;top:1044.21px;width:60px;height:16.38px;line-height:16.38px;font-size:12.6px;color:#2ac6ff;text-align:center;">9月</div>
<div class="t b" style="left:374.62px;top:1044.21px;width:60px;height:16.38px;line-height:16.38px;font-size:12.6px;color:#2ac6ff;text-align:center;">11月</div>
<div style="left:373.97px;top:938px;width:12px;height:100.4px;background:#5cf297;"></div>
<div style="left:406.22px;top:895.2px;width:12px;height:143.2px;background:#5cf297;"></div>
<div style="left:500px;top:756px;width:960px;height:314px;background:#000;"></div>
<div class="t b" style="left:554px;top:774.2px;width:160px;height:15.6px;line-height:15.6px;font-size:12px;color:#fff;text-align:left;">企业用电负荷</div>
<svg style="left:500px;top:756px" width="960" height="314" viewBox="250 378 480 157">
<path d="M476.7,520.5 L476.7,488.5 L477.29,488.4 L477.87,488.27 L478.46,488.11 L479.04,487.93 L479.63,487.75 L480.21,487.57 L480.8,487.4 L481.35,487.3 L481.9,487.26 L482.45,487.24 L483,487.21 L483.55,487.13 L484.1,486.98 L484.65,486.71 L485.2,486.3 L485.77,484.95 L486.35,483.11 L486.93,481.17 L487.5,479.5 L488.05,478.08 L488.6,476.75 L489.15,475.67 L489.7,475 L490.26,474.87 L490.82,474.88 L491.39,474.99 L491.95,475.18 L492.51,475.43 L493.07,475.7 L493.64,475.96 L494.2,476.2 L494.76,476.43 L495.32,476.68 L495.89,476.95 L496.45,477.23 L497.01,477.52 L497.57,477.82 L498.14,478.11 L498.7,478.4 L499.26,478.7 L499.82,479.02 L500.39,479.36 L500.95,479.69 L501.51,480 L502.07,480.28 L502.64,480.52 L503.2,480.7 L503.76,480.83 L504.32,480.92 L504.89,480.97 L505.45,480.99 L506.01,480.97 L506.57,480.92 L507.14,480.83 L507.7,480.7 L508.25,480.48 L508.8,480.19 L509.35,479.83 L509.9,479.41 L510.45,478.94 L511,478.4 L511.58,477.76 L512.17,477 L512.75,476.19 L513.33,475.36 L513.92,474.58 L514.5,473.9 L515.07,473.34 L515.64,472.75 L516.21,472.18 L516.79,471.68 L517.36,471.28 L517.93,471.04 L518.5,471 L519.04,471.24 L519.59,471.74 L520.13,472.4 L520.67,473.15 L521.21,473.9 L521.76,474.54 L522.3,475 L522.86,475.24 L523.42,475.39 L523.99,475.46 L524.55,475.5 L525.11,475.52 L525.67,475.54 L526.24,475.59 L526.8,475.7 L527.36,475.86 L527.92,476.03 L528.49,476.23 L529.05,476.43 L529.61,476.65 L530.17,476.86 L530.74,477.08 L531.3,477.3 L531.86,477.54 L532.42,477.84 L532.99,478.15 L533.55,478.46 L534.11,478.73 L534.67,478.95 L535.24,479.08 L535.8,479.1 L536.36,478.98 L536.92,478.74 L537.49,478.41 L538.05,478.02 L538.61,477.61 L539.17,477.21 L539.74,476.87 L540.3,476.6 L540.86,476.4 L541.42,476.22 L541.99,476.06 L542.55,475.93 L543.11,475.82 L543.67,475.75 L544.24,475.71 L544.8,475.7 L545.35,475.83 L545.9,476.11 L546.45,476.44 L547,476.74 L547.55,476.89 L548.1,476.8 L548.69,476.45 L549.27,475.88 L549.86,475.17 L550.44,474.43 L551.03,473.72 L551.61,473.15 L552.2,472.8 L552.74,472.69 L553.29,472.73 L553.83,472.89 L554.37,473.13 L554.91,473.4 L555.46,473.67 L556,473.9 L556.56,474.09 L557.12,474.3 L557.69,474.53 L558.25,474.77 L558.81,475 L559.38,475.2 L559.94,475.37 L560.5,475.5 L561.06,475.56 L561.62,475.61 L562.17,475.65 L562.73,475.68 L563.29,475.69 L563.85,475.7 L564.41,475.69 L564.97,475.68 L565.53,475.65 L566.08,475.61 L566.64,475.56 L567.2,475.5 L567.77,475.32 L568.33,475.07 L568.9,474.77 L569.47,474.46 L570.03,474.16 L570.6,473.9 L571.17,473.68 L571.74,473.44 L572.31,473.19 L572.89,472.98 L573.46,472.82 L574.03,472.75 L574.6,472.8 L575.14,472.98 L575.69,473.29 L576.23,473.68 L576.77,474.13 L577.31,474.6 L577.86,475.07 L578.4,475.5 L578.96,475.88 L579.52,476.32 L580.09,476.77 L580.65,477.22 L581.21,477.63 L581.77,477.99 L582.34,478.25 L582.9,478.4 L583.44,478.34 L583.99,478.05 L584.53,477.63 L585.07,477.18 L585.61,476.83 L586.16,476.66 L586.7,476.8 L587.29,477.35 L587.87,478.26 L588.46,479.37 L589.04,480.55 L589.63,481.63 L590.21,482.46 L590.8,482.9 L591.35,482.92 L591.9,482.67 L592.45,482.24 L593,481.67 L593.55,481.05 L594.1,480.44 L594.65,479.9 L595.2,479.5 L595.77,479.07 L596.33,478.65 L596.9,478.27 L597.47,478.01 L598.03,477.9 L598.6,478 L599.14,478.32 L599.69,478.85 L600.23,479.53 L600.77,480.27 L601.31,481.01 L601.86,481.68 L602.4,482.2 L602.99,482.57 L603.57,482.86 L604.16,483.08 L604.74,483.28 L605.33,483.48 L605.91,483.71 L606.5,484 L607.05,484.33 L607.6,484.73 L608.15,485.16 L608.7,485.6 L609.25,486.02 L609.8,486.4 L610.35,486.7 L610.9,486.9 L611.48,487.09 L612.07,487.24 L612.65,487.3 L613.23,487.2 L613.82,486.89 L614.4,486.3 L614.98,484.81 L615.55,482.74 L616.12,480.38 L616.7,478 L617.28,475.4 L617.85,472.54 L618.42,469.88 L619,467.9 L619.55,467.11 L620.1,466.65 L620.65,466.42 L621.2,466.34 L621.75,466.29 L622.3,466.2 L622.87,466.07 L623.43,465.98 L624,465.93 L624.57,465.93 L625.13,465.99 L625.7,466.1 L626.27,466.34 L626.83,466.73 L627.4,467.18 L627.97,467.58 L628.53,467.85 L629.1,467.9 L629.65,467.7 L630.2,467.32 L630.75,466.81 L631.3,466.21 L631.85,465.6 L632.4,465 L632.99,464.45 L633.57,463.82 L634.16,463.15 L634.74,462.49 L635.33,461.89 L635.91,461.41 L636.5,461.1 L637.04,461.01 L637.59,461.11 L638.13,461.34 L638.67,461.61 L639.21,461.87 L639.76,462.02 L640.3,462 L640.86,461.83 L641.42,461.58 L641.99,461.25 L642.55,460.87 L643.11,460.46 L643.67,460.05 L644.24,459.66 L644.8,459.3 L645.36,458.92 L645.92,458.48 L646.49,458.01 L647.05,457.56 L647.61,457.16 L648.17,456.86 L648.74,456.69 L649.3,456.7 L649.85,457.07 L650.4,457.78 L650.95,458.68 L651.5,459.63 L652.05,460.49 L652.6,461.1 L653.17,461.48 L653.73,461.75 L654.3,461.92 L654.87,462.01 L655.43,462.03 L656,462 L656.56,461.93 L657.12,461.81 L657.68,461.63 L658.24,461.43 L658.8,461.21 L659.36,461 L659.92,460.81 L660.48,460.65 L661.04,460.54 L661.6,460.5 L662.16,460.53 L662.73,460.63 L663.29,460.78 L663.85,460.97 L664.41,461.2 L664.98,461.45 L665.54,461.72 L666.1,462 L666.67,462.38 L667.24,462.84 L667.81,463.34 L668.39,463.85 L668.96,464.32 L669.53,464.72 L670.1,465 L670.64,465.18 L671.19,465.3 L671.73,465.35 L672.27,465.35 L672.81,465.28 L673.36,465.17 L673.9,465 L674.46,464.77 L675.02,464.43 L675.59,464.03 L676.15,463.59 L676.71,463.17 L677.27,462.79 L677.84,462.48 L678.4,462.3 L678.96,462.25 L679.52,462.3 L680.09,462.44 L680.65,462.61 L681.21,462.81 L681.77,462.99 L682.34,463.13 L682.9,463.2 L683.46,463.18 L684.02,463.09 L684.59,462.97 L685.15,462.82 L685.71,462.7 L686.27,462.62 L686.84,462.61 L687.4,462.7 L687.95,463.3 L688.5,464.23 L689.05,465.13 L689.6,465.6 L690.16,465.59 L690.72,465.48 L691.28,465.28 L691.84,465.02 L692.4,464.74 L692.96,464.45 L693.52,464.19 L694.08,463.97 L694.64,463.84 L695.2,463.8 L695.77,463.96 L696.33,464.3 L696.9,464.76 L697.47,465.26 L698.03,465.73 L698.6,466.1 L699.15,466.89 L699.7,467.4 L699.7,520.5 Z" fill="#80fcff"/>
<path d="M299.4,520.5 L299.4,458.2 L299.98,457.05 L300.56,455.47 L301.14,453.57 L301.72,451.47 L302.3,449.3 L302.86,448.1 L303.42,446.72 L303.98,445.22 L304.54,443.66 L305.1,442.11 L305.66,440.61 L306.22,439.24 L306.78,438.06 L307.34,437.13 L307.9,436.5 L308.46,436.26 L309.02,436.57 L309.59,437.24 L310.15,438.12 L310.71,439.03 L311.27,439.81 L311.84,440.29 L312.4,440.3 L312.97,439.55 L313.53,438.23 L314.1,436.57 L314.67,434.81 L315.23,433.21 L315.8,432 L316.37,431.19 L316.93,430.59 L317.5,430.13 L318.07,429.77 L318.63,429.45 L319.2,429.1 L319.75,428.83 L320.3,428.57 L320.85,428.33 L321.4,428.12 L321.95,427.93 L322.5,427.76 L323.05,427.61 L323.6,427.5 L324.17,427.44 L324.74,427.43 L325.31,427.44 L325.88,427.47 L326.45,427.51 L327.02,427.55 L327.59,427.58 L328.16,427.59 L328.73,427.57 L329.3,427.5 L329.85,427.32 L330.4,427.03 L330.95,426.68 L331.5,426.32 L332.05,425.99 L332.6,425.75 L333.15,425.64 L333.7,425.7 L334.26,426 L334.82,426.5 L335.39,427.15 L335.95,427.87 L336.51,428.6 L337.07,429.28 L337.64,429.83 L338.2,430.2 L338.74,430.43 L339.29,430.54 L339.83,430.54 L340.37,430.45 L340.91,430.27 L341.46,430.02 L342,429.7 L342.51,429.2 L343.03,428.49 L343.54,427.66 L344.06,426.82 L344.57,426.07 L345.09,425.53 L345.6,425.3 L346.16,425.39 L346.73,425.69 L347.29,426.16 L347.85,426.73 L348.41,427.37 L348.98,428.01 L349.54,428.6 L350.1,429.1 L350.64,429.61 L351.19,430.14 L351.73,430.66 L352.27,431.15 L352.81,431.59 L353.36,431.95 L353.9,432.2 L354.46,432.31 L355.02,432.38 L355.58,432.41 L356.14,432.4 L356.7,432.36 L357.26,432.29 L357.82,432.2 L358.38,432.08 L358.94,431.95 L359.5,431.8 L360.06,431.6 L360.62,431.38 L361.19,431.14 L361.75,430.85 L362.31,430.51 L362.88,430.12 L363.44,429.65 L364,429.1 L364.58,427.81 L365.16,426.1 L365.74,424.35 L366.32,422.96 L366.9,422.3 L367.44,422.68 L367.98,423.83 L368.52,425.31 L369.06,426.68 L369.6,427.5 L370.16,427.65 L370.73,427.63 L371.29,427.48 L371.85,427.25 L372.41,426.97 L372.98,426.67 L373.54,426.4 L374.1,426.2 L374.66,426.04 L375.23,425.86 L375.79,425.69 L376.35,425.52 L376.91,425.36 L377.48,425.21 L378.04,425.09 L378.6,425 L379.16,424.92 L379.73,424.85 L380.29,424.78 L380.85,424.74 L381.41,424.73 L381.98,424.76 L382.54,424.85 L383.1,425 L383.67,425.4 L384.23,426.01 L384.8,426.71 L385.37,427.36 L385.93,427.84 L386.5,428 L387.05,427.85 L387.6,427.49 L388.15,427 L388.7,426.42 L389.25,425.83 L389.8,425.28 L390.35,424.85 L390.9,424.6 L391.46,424.53 L392.02,424.59 L392.59,424.75 L393.15,424.96 L393.71,425.2 L394.27,425.43 L394.84,425.6 L395.4,425.7 L395.96,425.7 L396.52,425.64 L397.09,425.55 L397.65,425.43 L398.21,425.33 L398.77,425.25 L399.34,425.24 L399.9,425.3 L400.47,425.45 L401.05,425.68 L401.62,425.96 L402.2,426.28 L402.77,426.6 L403.35,426.93 L403.93,427.24 L404.5,427.5 L405.06,427.75 L405.62,428.02 L406.19,428.28 L406.75,428.54 L407.31,428.76 L407.88,428.94 L408.44,429.06 L409,429.1 L409.56,429.05 L410.12,428.93 L410.69,428.74 L411.25,428.51 L411.81,428.26 L412.38,427.99 L412.94,427.73 L413.5,427.5 L414.07,427.2 L414.64,426.84 L415.21,426.45 L415.79,426.09 L416.36,425.81 L416.93,425.67 L417.5,425.7 L417.93,426.54 L418.37,428.01 L418.8,429.5 L419.2,431.42 L419.6,433.5 L420.2,436.2 L420.8,438.6 L421.35,439.27 L421.9,439.69 L422.45,439.97 L423,440.2 L423.58,440.34 L424.17,440.43 L424.75,440.48 L425.33,440.52 L425.92,440.55 L426.5,440.6 L427.04,440.64 L427.59,440.66 L428.13,440.67 L428.67,440.69 L429.21,440.72 L429.76,440.79 L430.3,440.9 L430.86,441.03 L431.43,441.19 L431.99,441.37 L432.55,441.57 L433.11,441.79 L433.68,442.02 L434.24,442.26 L434.8,442.5 L435.36,442.78 L435.93,443.11 L436.49,443.47 L437.05,443.83 L437.61,444.16 L438.18,444.45 L438.74,444.68 L439.3,444.8 L439.86,444.82 L440.42,444.78 L440.98,444.69 L441.54,444.57 L442.1,444.41 L442.66,444.24 L443.22,444.06 L443.78,443.89 L444.34,443.73 L444.9,443.6 L445.46,443.5 L446.02,443.39 L446.57,443.27 L447.13,443.14 L447.69,443.02 L448.25,442.91 L448.81,442.8 L449.37,442.7 L449.93,442.62 L450.48,442.55 L451.04,442.51 L451.6,442.5 L452.17,442.53 L452.73,442.62 L453.3,442.77 L453.87,442.98 L454.43,443.26 L455,443.6 L455.55,444.26 L456.1,445.09 L456.65,446.02 L457.2,447 L457.75,448.16 L458.3,449.49 L458.85,450.7 L459.4,451.5 L459.96,451.65 L460.52,451.62 L461.09,451.49 L461.65,451.29 L462.21,451.08 L462.77,450.93 L463.34,450.89 L463.9,451 L464.46,451.33 L465.02,451.84 L465.59,452.46 L466.15,453.13 L466.71,453.78 L467.27,454.34 L467.84,454.73 L468.4,454.9 L468.96,454.8 L469.52,454.47 L470.09,453.99 L470.65,453.42 L471.21,452.82 L471.77,452.25 L472.34,451.79 L472.9,451.5 L473.44,451.36 L473.99,451.35 L474.53,451.43 L475.07,451.56 L475.61,451.7 L476.16,451.83 L476.7,451.9 L476.7,520.5 Z" fill="#ff4a1a"/>
<path d="M299.4,520.5 L299.4,465 L299.88,463.86 L300.35,462.23 L300.82,460.29 L301.3,458.2 L301.85,456.62 L302.4,454.79 L302.95,452.86 L303.5,451 L304.05,449.36 L304.6,448.1 L305.15,447.3 L305.7,446.87 L306.25,446.65 L306.8,446.51 L307.35,446.31 L307.9,445.9 L308.46,445.44 L309.02,444.89 L309.59,444.3 L310.15,443.68 L310.71,443.06 L311.27,442.45 L311.84,441.89 L312.4,441.4 L312.99,440.88 L313.57,440.35 L314.16,439.85 L314.74,439.41 L315.33,439.05 L315.91,438.81 L316.5,438.7 L317.04,438.85 L317.59,439.26 L318.13,439.81 L318.67,440.39 L319.21,440.86 L319.76,441.11 L320.3,441 L320.85,440.34 L321.4,439.24 L321.95,437.88 L322.5,436.46 L323.05,435.17 L323.6,434.2 L324.18,433.28 L324.75,432.69 L325.32,432.3 L325.9,432 L326.46,431.91 L327.02,431.83 L327.57,431.77 L328.13,431.73 L328.69,431.7 L329.25,431.68 L329.81,431.68 L330.37,431.68 L330.93,431.7 L331.48,431.72 L332.04,431.76 L332.6,431.8 L333.16,431.91 L333.73,432.09 L334.29,432.31 L334.85,432.55 L335.41,432.77 L335.98,432.96 L336.54,433.08 L337.1,433.1 L337.64,433.01 L338.19,432.83 L338.73,432.58 L339.28,432.29 L339.82,431.99 L340.37,431.71 L340.91,431.48 L341.46,431.34 L342,431.3 L342.57,431.35 L343.14,431.46 L343.71,431.61 L344.28,431.8 L344.85,432.02 L345.42,432.26 L345.98,432.5 L346.55,432.75 L347.12,432.98 L347.69,433.19 L348.26,433.37 L348.83,433.51 L349.4,433.6 L349.96,433.64 L350.53,433.65 L351.09,433.63 L351.66,433.59 L352.22,433.53 L352.79,433.45 L353.35,433.37 L353.91,433.28 L354.48,433.19 L355.04,433.11 L355.61,433.03 L356.17,432.97 L356.74,432.92 L357.3,432.9 L357.86,432.9 L358.43,432.91 L358.99,432.93 L359.55,432.95 L360.11,432.99 L360.68,433.03 L361.24,433.07 L361.8,433.11 L362.36,433.16 L362.93,433.2 L363.49,433.23 L364.05,433.27 L364.61,433.29 L365.18,433.3 L365.74,433.31 L366.3,433.3 L366.86,433.27 L367.41,433.24 L367.97,433.18 L368.53,433.12 L369.09,433.05 L369.64,432.98 L370.2,432.9 L370.76,432.82 L371.31,432.74 L371.87,432.66 L372.43,432.58 L372.99,432.51 L373.54,432.45 L374.1,432.4 L374.66,432.36 L375.23,432.32 L375.79,432.28 L376.35,432.25 L376.91,432.21 L377.48,432.18 L378.04,432.15 L378.6,432.12 L379.16,432.09 L379.73,432.07 L380.29,432.05 L380.85,432.03 L381.41,432.02 L381.98,432.01 L382.54,432 L383.1,432 L383.7,432 L384.3,432.02 L384.9,432.04 L385.5,432.06 L386.1,432.09 L386.7,432.13 L387.3,432.16 L387.9,432.2 L388.5,432.24 L389.1,432.28 L389.7,432.32 L390.3,432.36 L390.9,432.4 L391.46,432.43 L392.02,432.47 L392.59,432.51 L393.15,432.56 L393.71,432.6 L394.27,432.65 L394.84,432.7 L395.4,432.74 L395.96,432.79 L396.52,432.83 L397.09,432.86 L397.65,432.89 L398.21,432.9 L398.77,432.91 L399.34,432.91 L399.9,432.9 L400.47,432.87 L401.04,432.83 L401.61,432.78 L402.17,432.72 L402.74,432.65 L403.31,432.58 L403.88,432.5 L404.45,432.41 L405.02,432.33 L405.59,432.24 L406.16,432.15 L406.73,432.07 L407.29,431.99 L407.86,431.92 L408.43,431.86 L409,431.8 L409.56,431.72 L410.12,431.66 L410.68,431.59 L411.24,431.54 L411.8,431.49 L412.36,431.44 L412.92,431.4 L413.48,431.36 L414.04,431.33 L414.6,431.3 L415.2,431.26 L415.8,431.23 L416.4,431.21 L417,431.2 L417.6,431.2 L418.2,431.2 L418.75,431.15 L419.3,431.04 L419.85,430.93 L420.4,430.9 L420.95,431 L421.5,431.3 L422.04,431.78 L422.59,432.44 L423.13,433.23 L423.67,434.07 L424.21,434.91 L424.76,435.67 L425.3,436.3 L425.8,436.88 L426.3,437.37 L426.8,437.79 L427.3,438.16 L427.8,438.49 L428.3,438.8 L428.8,439.06 L429.3,439.13 L429.8,439.31 L430.3,439.9 L430.85,441.99 L431.4,445.9 L431.95,453.59 L432.5,461.6 L433.05,466.69 L433.6,470.1 L434.18,471.1 L434.75,471.61 L435.32,471.94 L435.9,472.4 L436.46,472.71 L437.02,473.02 L437.59,473.33 L438.15,473.64 L438.71,473.97 L439.27,474.32 L439.84,474.7 L440.4,475.1 L440.96,475.54 L441.52,476.03 L442.09,476.54 L442.65,477.08 L443.21,477.61 L443.77,478.13 L444.34,478.63 L444.9,479.1 L445.46,479.44 L446.02,479.77 L446.58,480.08 L447.14,480.38 L447.7,480.68 L448.26,480.97 L448.82,481.26 L449.38,481.56 L449.94,481.87 L450.5,482.2 L451.06,482.55 L451.62,482.91 L452.18,483.29 L452.74,483.68 L453.3,484.07 L453.86,484.45 L454.42,484.82 L454.98,485.17 L455.54,485.5 L456.1,485.8 L456.66,486.07 L457.22,486.32 L457.78,486.54 L458.34,486.75 L458.9,486.95 L459.46,487.13 L460.02,487.31 L460.58,487.48 L461.14,487.64 L461.7,487.8 L462.26,487.96 L462.82,488.12 L463.38,488.28 L463.94,488.44 L464.5,488.58 L465.06,488.71 L465.62,488.82 L466.18,488.91 L466.74,488.97 L467.3,489 L467.86,488.98 L468.43,488.89 L468.99,488.76 L469.55,488.6 L470.11,488.43 L470.68,488.28 L471.24,488.16 L471.8,488.1 L472.34,488.09 L472.89,488.11 L473.43,488.15 L473.98,488.21 L474.52,488.28 L475.07,488.35 L475.61,488.41 L476.16,488.47 L476.7,488.5 L476.7,520.5 Z" fill="#80fcff"/>
<path d="M299.4,520.5 L299.4,465 L299.88,463.86 L299.98,463.51 L300.35,462.23 L300.56,461.36 L300.82,460.29 L301.14,458.9 L301.3,458.2 L301.72,456.99 L301.85,456.62 L302.3,455.12 L302.4,454.79 L302.86,453.18 L302.95,452.86 L303.42,451.27 L303.5,451 L303.98,449.57 L304.05,449.36 L304.54,448.24 L304.6,448.1 L305.1,447.37 L305.15,447.3 L305.66,446.9 L305.7,446.87 L306.22,446.66 L306.25,446.65 L306.78,446.52 L306.8,446.51 L307.34,446.31 L307.35,446.31 L307.9,445.9 L308.46,445.44 L309.02,444.89 L309.59,444.3 L310.15,443.68 L310.71,443.06 L311.27,442.45 L311.84,441.89 L312.4,441.4 L312.97,440.9 L312.99,440.88 L313.53,440.39 L313.57,440.35 L314.1,439.9 L314.16,439.85 L314.67,439.46 L314.74,439.41 L315.23,439.11 L315.33,439.05 L315.8,438.86 L315.91,438.81 L316.37,438.72 L316.5,438.7 L316.93,438.82 L317.04,438.85 L317.5,439.19 L317.59,439.26 L318.07,439.75 L318.13,439.81 L318.63,440.35 L318.67,440.39 L319.2,440.85 L319.21,440.86 L319.75,441.11 L319.76,441.11 L320.3,441 L320.85,440.34 L321.4,439.24 L321.95,437.88 L322.5,436.46 L323.05,435.17 L323.6,434.2 L324.17,433.3 L324.18,433.28 L324.74,432.7 L324.75,432.69 L325.31,432.31 L325.32,432.3 L325.88,432.01 L325.9,432 L326.45,431.91 L326.46,431.91 L327.02,431.83 L327.57,431.77 L327.59,431.77 L328.13,431.73 L328.16,431.73 L328.69,431.7 L328.73,431.7 L329.25,431.68 L329.3,431.68 L329.81,431.68 L329.85,431.68 L330.37,431.68 L330.4,431.68 L330.93,431.7 L330.95,431.7 L331.48,431.72 L331.5,431.72 L332.04,431.76 L332.05,431.76 L332.6,431.8 L333.15,431.91 L333.16,431.91 L333.7,432.08 L333.73,432.09 L334.26,432.3 L334.29,432.31 L334.82,432.54 L334.85,432.55 L335.39,432.76 L335.41,432.77 L335.95,432.95 L335.98,432.96 L336.51,433.07 L336.54,433.08 L337.07,433.1 L337.1,433.1 L337.64,433.01 L338.19,432.83 L338.2,432.83 L338.73,432.58 L338.74,432.57 L339.28,432.29 L339.29,432.28 L339.82,431.99 L339.83,431.98 L340.37,431.71 L340.91,431.48 L341.46,431.34 L342,431.3 L342.51,431.34 L342.57,431.35 L343.03,431.44 L343.14,431.46 L343.54,431.57 L343.71,431.61 L344.06,431.73 L344.28,431.8 L344.57,431.91 L344.85,432.02 L345.09,432.12 L345.42,432.26 L345.6,432.34 L345.98,432.5 L346.16,432.58 L346.55,432.75 L346.73,432.82 L347.12,432.98 L347.29,433.04 L347.69,433.19 L347.85,433.24 L348.26,433.37 L348.41,433.41 L348.83,433.51 L348.98,433.53 L349.4,433.6 L349.54,433.61 L349.96,433.64 L350.1,433.64 L350.53,433.65 L350.64,433.65 L351.09,433.63 L351.19,433.62 L351.66,433.59 L351.73,433.58 L352.22,433.53 L352.27,433.52 L352.79,433.45 L352.81,433.45 L353.35,433.37 L353.36,433.37 L353.9,433.28 L353.91,433.28 L354.46,433.19 L354.48,433.19 L355.02,433.11 L355.04,433.11 L355.58,433.03 L355.61,433.03 L356.14,432.97 L356.17,432.97 L356.7,432.92 L356.74,432.92 L357.26,432.9 L357.3,432.9 L357.82,432.9 L357.86,432.9 L358.38,432.91 L358.43,432.91 L358.94,432.93 L358.99,432.93 L359.5,432.95 L359.55,432.95 L360.06,432.99 L360.11,432.99 L360.62,433.03 L360.68,433.03 L361.19,433.07 L361.24,433.07 L361.75,433.11 L361.8,433.11 L362.31,433.16 L362.36,433.16 L362.88,433.2 L362.93,433.2 L363.44,433.23 L363.49,433.23 L364,433.27 L364.05,433.27 L364.58,433.29 L364.61,433.29 L365.16,433.3 L365.18,433.3 L365.74,433.31 L366.3,433.3 L366.32,433.3 L366.86,433.27 L366.9,433.27 L367.41,433.24 L367.44,433.24 L367.97,433.18 L367.98,433.18 L368.52,433.12 L368.53,433.12 L369.06,433.05 L369.09,433.05 L369.6,432.99 L369.64,432.98 L370.16,432.91 L370.2,432.9 L370.73,432.82 L370.76,432.82 L371.29,432.74 L371.31,432.74 L371.85,432.66 L371.87,432.66 L372.41,432.58 L372.43,432.58 L372.98,432.51 L372.99,432.51 L373.54,432.45 L374.1,432.4 L374.66,432.36 L375.23,432.32 L375.79,432.28 L376.35,432.25 L376.91,432.21 L377.48,432.18 L378.04,432.15 L378.6,432.12 L379.16,432.09 L379.73,432.07 L380.29,432.05 L380.85,432.03 L381.41,432.02 L381.98,432.01 L382.54,432 L383.1,432 L383.67,432 L383.7,432 L384.23,432.02 L384.3,432.02 L384.8,432.04 L384.9,432.04 L385.37,432.06 L385.5,432.06 L385.93,432.08 L386.1,432.09 L386.5,432.12 L386.7,432.13 L387.05,432.15 L387.3,432.16 L387.6,432.18 L387.9,432.2 L388.15,432.22 L388.5,432.24 L388.7,432.25 L389.1,432.28 L389.25,432.29 L389.7,432.32 L389.8,432.33 L390.3,432.36 L390.35,432.36 L390.9,432.4 L391.46,432.43 L392.02,432.47 L392.59,432.51 L393.15,432.56 L393.71,432.6 L394.27,432.65 L394.84,432.7 L395.4,432.74 L395.96,432.79 L396.52,432.83 L397.09,432.86 L397.65,432.89 L398.21,432.9 L398.77,432.91 L399.34,432.91 L399.9,432.9 L400.47,432.87 L401.04,432.83 L401.05,432.83 L401.61,432.78 L401.62,432.78 L402.17,432.72 L402.2,432.72 L402.74,432.65 L402.77,432.65 L403.31,432.58 L403.35,432.57 L403.88,432.5 L403.93,432.49 L404.45,432.41 L404.5,432.4 L405.02,432.33 L405.06,432.32 L405.59,432.24 L405.62,432.24 L406.16,432.15 L406.19,432.15 L406.73,432.07 L406.75,432.07 L407.29,431.99 L407.31,431.99 L407.86,431.92 L407.88,431.92 L408.43,431.86 L408.44,431.86 L409,431.8 L409.56,431.72 L410.12,431.66 L410.68,431.59 L410.69,431.59 L411.24,431.54 L411.25,431.54 L411.8,431.49 L411.81,431.49 L412.36,431.44 L412.38,431.44 L412.92,431.4 L412.94,431.4 L413.48,431.36 L413.5,431.36 L414.04,431.33 L414.07,431.33 L414.6,431.3 L414.64,431.3 L415.2,431.26 L415.21,431.26 L415.79,431.23 L415.8,431.23 L416.36,431.21 L416.4,431.21 L416.93,431.2 L417,431.2 L417.5,431.2 L417.6,431.2 L417.93,431.2 L418.2,431.2 L418.37,431.18 L418.75,431.15 L418.8,431.14 L419.2,431.42 L419.3,431.94 L419.6,433.5 L419.85,434.63 L420.2,436.2 L420.4,437 L420.8,438.6 L420.95,438.78 L421.35,439.27 L421.5,439.38 L421.9,439.69 L422.04,439.76 L422.45,439.97 L422.59,440.03 L423,440.2 L423.13,440.23 L423.58,440.34 L423.67,440.35 L424.17,440.43 L424.21,440.43 L424.75,440.48 L424.76,440.48 L425.3,440.52 L425.33,440.52 L425.8,440.54 L425.92,440.55 L426.3,440.58 L426.5,440.6 L426.8,440.62 L427.04,440.64 L427.3,440.65 L427.59,440.66 L427.8,440.66 L428.13,440.67 L428.3,440.68 L428.67,440.69 L428.8,440.7 L429.21,440.72 L429.3,440.73 L429.76,440.79 L429.8,440.8 L430.3,440.9 L430.85,441.99 L430.86,442.06 L431.4,445.9 L431.43,446.32 L431.95,453.59 L431.99,454.17 L432.5,461.6 L432.55,462.06 L433.05,466.69 L433.11,467.06 L433.6,470.1 L433.68,470.24 L434.18,471.1 L434.24,471.15 L434.75,471.61 L434.8,471.64 L435.32,471.94 L435.36,471.97 L435.9,472.4 L435.93,472.42 L436.46,472.71 L436.49,472.73 L437.02,473.02 L437.05,473.04 L437.59,473.33 L437.61,473.34 L438.15,473.64 L438.18,473.66 L438.71,473.97 L438.74,473.99 L439.27,474.32 L439.3,474.34 L439.84,474.7 L439.86,474.71 L440.4,475.1 L440.42,475.12 L440.96,475.54 L440.98,475.56 L441.52,476.03 L441.54,476.05 L442.09,476.54 L442.1,476.55 L442.65,477.08 L442.66,477.09 L443.21,477.61 L443.22,477.62 L443.77,478.13 L443.78,478.14 L444.34,478.63 L444.9,479.1 L445.46,479.44 L446.02,479.77 L446.57,480.07 L446.58,480.08 L447.13,480.37 L447.14,480.38 L447.69,480.67 L447.7,480.68 L448.25,480.96 L448.26,480.97 L448.81,481.25 L448.82,481.26 L449.37,481.55 L449.38,481.56 L449.93,481.86 L449.94,481.87 L450.48,482.19 L450.5,482.2 L451.04,482.54 L451.06,482.55 L451.6,482.9 L451.62,482.91 L452.17,483.28 L452.18,483.29 L452.73,483.67 L452.74,483.68 L453.3,484.07 L453.86,484.45 L453.87,484.46 L454.42,484.82 L454.43,484.83 L454.98,485.17 L455,485.18 L455.54,485.5 L455.55,485.51 L456.1,485.8 L456.65,486.07 L456.66,486.07 L457.2,486.31 L457.22,486.32 L457.75,486.53 L457.78,486.54 L458.3,486.74 L458.34,486.75 L458.85,486.93 L458.9,486.95 L459.4,487.11 L459.46,487.13 L459.96,487.29 L460.02,487.31 L460.52,487.46 L460.58,487.48 L461.09,487.63 L461.14,487.64 L461.65,487.79 L461.7,487.8 L462.21,487.95 L462.26,487.96 L462.77,488.11 L462.82,488.12 L463.34,488.27 L463.38,488.28 L463.9,488.43 L463.94,488.44 L464.46,488.57 L464.5,488.58 L465.02,488.7 L465.06,488.71 L465.59,488.81 L465.62,488.82 L466.15,488.91 L466.18,488.91 L466.71,488.97 L466.74,488.97 L467.27,489 L467.3,489 L467.84,488.98 L467.86,488.98 L468.4,488.89 L468.43,488.89 L468.96,488.77 L468.99,488.76 L469.52,488.61 L469.55,488.6 L470.09,488.44 L470.11,488.43 L470.65,488.29 L470.68,488.28 L471.21,488.17 L471.24,488.16 L471.77,488.1 L471.8,488.1 L472.34,488.09 L472.89,488.11 L472.9,488.11 L473.43,488.15 L473.44,488.15 L473.98,488.21 L473.99,488.21 L474.52,488.28 L474.53,488.28 L475.07,488.35 L475.61,488.41 L476.16,488.47 L476.7,488.5 L476.7,520.5 Z" fill="#ff9077"/>
<path d="M299.4,465 L299.88,463.86 L300.35,462.23 L300.82,460.29 L301.3,458.2 L301.85,456.62 L302.4,454.79 L302.95,452.86 L303.5,451 L304.05,449.36 L304.6,448.1 L305.15,447.3 L305.7,446.87 L306.25,446.65 L306.8,446.51 L307.35,446.31 L307.9,445.9 L308.46,445.44 L309.02,444.89 L309.59,444.3 L310.15,443.68 L310.71,443.06 L311.27,442.45 L311.84,441.89 L312.4,441.4 L312.99,440.88 L313.57,440.35 L314.16,439.85 L314.74,439.41 L315.33,439.05 L315.91,438.81 L316.5,438.7 L317.04,438.85 L317.59,439.26 L318.13,439.81 L318.67,440.39 L319.21,440.86 L319.76,441.11 L320.3,441 L320.85,440.34 L321.4,439.24 L321.95,437.88 L322.5,436.46 L323.05,435.17 L323.6,434.2 L324.18,433.28 L324.75,432.69 L325.32,432.3 L325.9,432 L326.46,431.91 L327.02,431.83 L327.57,431.77 L328.13,431.73 L328.69,431.7 L329.25,431.68 L329.81,431.68 L330.37,431.68 L330.93,431.7 L331.48,431.72 L332.04,431.76 L332.6,431.8 L333.16,431.91 L333.73,432.09 L334.29,432.31 L334.85,432.55 L335.41,432.77 L335.98,432.96 L336.54,433.08 L337.1,433.1 L337.64,433.01 L338.19,432.83 L338.73,432.58 L339.28,432.29 L339.82,431.99 L340.37,431.71 L340.91,431.48 L341.46,431.34 L342,431.3 L342.57,431.35 L343.14,431.46 L343.71,431.61 L344.28,431.8 L344.85,432.02 L345.42,432.26 L345.98,432.5 L346.55,432.75 L347.12,432.98 L347.69,433.19 L348.26,433.37 L348.83,433.51 L349.4,433.6 L349.96,433.64 L350.53,433.65 L351.09,433.63 L351.66,433.59 L352.22,433.53 L352.79,433.45 L353.35,433.37 L353.91,433.28 L354.48,433.19 L355.04,433.11 L355.61,433.03 L356.17,432.97 L356.74,432.92 L357.3,432.9 L357.86,432.9 L358.43,432.91 L358.99,432.93 L359.55,432.95 L360.11,432.99 L360.68,433.03 L361.24,433.07 L361.8,433.11 L362.36,433.16 L362.93,433.2 L363.49,433.23 L364.05,433.27 L364.61,433.29 L365.18,433.3 L365.74,433.31 L366.3,433.3 L366.86,433.27 L367.41,433.24 L367.97,433.18 L368.53,433.12 L369.09,433.05 L369.64,432.98 L370.2,432.9 L370.76,432.82 L371.31,432.74 L371.87,432.66 L372.43,432.58 L372.99,432.51 L373.54,432.45 L374.1,432.4 L374.66,432.36 L375.23,432.32 L375.79,432.28 L376.35,432.25 L376.91,432.21 L377.48,432.18 L378.04,432.15 L378.6,432.12 L379.16,432.09 L379.73,432.07 L380.29,432.05 L380.85,432.03 L381.41,432.02 L381.98,432.01 L382.54,432 L383.1,432 L383.7,432 L384.3,432.02 L384.9,432.04 L385.5,432.06 L386.1,432.09 L386.7,432.13 L387.3,432.16 L387.9,432.2 L388.5,432.24 L389.1,432.28 L389.7,432.32 L390.3,432.36 L390.9,432.4 L391.46,432.43 L392.02,432.47 L392.59,432.51 L393.15,432.56 L393.71,432.6 L394.27,432.65 L394.84,432.7 L395.4,432.74 L395.96,432.79 L396.52,432.83 L397.09,432.86 L397.65,432.89 L398.21,432.9 L398.77,432.91 L399.34,432.91 L399.9,432.9 L400.47,432.87 L401.04,432.83 L401.61,432.78 L402.17,432.72 L402.74,432.65 L403.31,432.58 L403.88,432.5 L404.45,432.41 L405.02,432.33 L405.59,432.24 L406.16,432.15 L406.73,432.07 L407.29,431.99 L407.86,431.92 L408.43,431.86 L409,431.8 L409.56,431.72 L410.12,431.66 L410.68,431.59 L411.24,431.54 L411.8,431.49 L412.36,431.44 L412.92,431.4 L413.48,431.36 L414.04,431.33 L414.6,431.3 L415.2,431.26 L415.8,431.23 L416.4,431.21 L417,431.2 L417.6,431.2 L418.2,431.2 L418.75,431.15 L419.3,431.04 L419.85,430.93 L420.4,430.9 L420.95,431 L421.5,431.3 L422.04,431.78 L422.59,432.44 L423.13,433.23 L423.67,434.07 L424.21,434.91 L424.76,435.67 L425.3,436.3 L425.8,436.88 L426.3,437.37 L426.8,437.79 L427.3,438.16 L427.8,438.49 L428.3,438.8 L428.8,439.06 L429.3,439.13 L429.8,439.31 L430.3,439.9 L430.85,441.99 L431.4,445.9 L431.95,453.59 L432.5,461.6 L433.05,466.69 L433.6,470.1 L434.18,471.1 L434.75,471.61 L435.32,471.94 L435.9,472.4 L436.46,472.71 L437.02,473.02 L437.59,473.33 L438.15,473.64 L438.71,473.97 L439.27,474.32 L439.84,474.7 L440.4,475.1 L440.96,475.54 L441.52,476.03 L442.09,476.54 L442.65,477.08 L443.21,477.61 L443.77,478.13 L444.34,478.63 L444.9,479.1 L445.46,479.44 L446.02,479.77 L446.58,480.08 L447.14,480.38 L447.7,480.68 L448.26,480.97 L448.82,481.26 L449.38,481.56 L449.94,481.87 L450.5,482.2 L451.06,482.55 L451.62,482.91 L452.18,483.29 L452.74,483.68 L453.3,484.07 L453.86,484.45 L454.42,484.82 L454.98,485.17 L455.54,485.5 L456.1,485.8 L456.66,486.07 L457.22,486.32 L457.78,486.54 L458.34,486.75 L458.9,486.95 L459.46,487.13 L460.02,487.31 L460.58,487.48 L461.14,487.64 L461.7,487.8 L462.26,487.96 L462.82,488.12 L463.38,488.28 L463.94,488.44 L464.5,488.58 L465.06,488.71 L465.62,488.82 L466.18,488.91 L466.74,488.97 L467.3,489 L467.86,488.98 L468.43,488.89 L468.99,488.76 L469.55,488.6 L470.11,488.43 L470.68,488.28 L471.24,488.16 L471.8,488.1 L472.34,488.09 L472.89,488.11 L473.43,488.15 L473.98,488.21 L474.52,488.28 L475.07,488.35 L475.61,488.41 L476.16,488.47 L476.7,488.5" fill="none" stroke="#f4ffff" stroke-width="1.6" stroke-linejoin="round"/>
<circle cx="298.8" cy="465" r="1.4" fill="#8cf6ff"/>
<circle cx="315.6" cy="438.94" r="1.4" fill="#8cf6ff"/>
<circle cx="332.4" cy="431.79" r="1.4" fill="#8cf6ff"/>
<circle cx="349.2" cy="433.57" r="1.4" fill="#8cf6ff"/>
<circle cx="366" cy="433.31" r="1.4" fill="#8cf6ff"/>
<circle cx="382.8" cy="432" r="1.4" fill="#8cf6ff"/>
<circle cx="399.6" cy="432.91" r="1.4" fill="#8cf6ff"/>
<circle cx="416.4" cy="431.21" r="1.4" fill="#8cf6ff"/>
<circle cx="433.2" cy="467.62" r="1.4" fill="#8cf6ff"/>
<circle cx="450" cy="481.91" r="1.4" fill="#8cf6ff"/>
<circle cx="466.8" cy="488.97" r="1.4" fill="#8cf6ff"/>
<path d="M297.7,415.9 L297.7,520.5 L702,520.5" fill="none" stroke="#12a4ea" stroke-width="1"/>
<path d="M295.2,520.5 L297.7,520.5" stroke="#12a4ea" stroke-width="1"/>
<path d="M295.2,505.56 L297.7,505.56" stroke="#12a4ea" stroke-width="1"/>
<path d="M295.2,490.62 L297.7,490.62" stroke="#12a4ea" stroke-width="1"/>
<path d="M295.2,475.68 L297.7,475.68" stroke="#12a4ea" stroke-width="1"/>
<path d="M295.2,460.74 L297.7,460.74" stroke="#12a4ea" stroke-width="1"/>
<path d="M295.2,445.8 L297.7,445.8" stroke="#12a4ea" stroke-width="1"/>
<path d="M295.2,430.86 L297.7,430.86" stroke="#12a4ea" stroke-width="1"/>
<path d="M295.2,415.92 L297.7,415.92" stroke="#12a4ea" stroke-width="1"/>
<path d="M298.8,520.5 L298.8,522.8" stroke="#12a4ea" stroke-width="1"/>
<path d="M315.6,520.5 L315.6,522.8" stroke="#12a4ea" stroke-width="1"/>
<path d="M332.4,520.5 L332.4,522.8" stroke="#12a4ea" stroke-width="1"/>
<path d="M349.2,520.5 L349.2,522.8" stroke="#12a4ea" stroke-width="1"/>
<path d="M366,520.5 L366,522.8" stroke="#12a4ea" stroke-width="1"/>
<path d="M382.8,520.5 L382.8,522.8" stroke="#12a4ea" stroke-width="1"/>
<path d="M399.6,520.5 L399.6,522.8" stroke="#12a4ea" stroke-width="1"/>
<path d="M416.4,520.5 L416.4,522.8" stroke="#12a4ea" stroke-width="1"/>
<path d="M433.2,520.5 L433.2,522.8" stroke="#12a4ea" stroke-width="1"/>
<path d="M450,520.5 L450,522.8" stroke="#12a4ea" stroke-width="1"/>
<path d="M466.8,520.5 L466.8,522.8" stroke="#12a4ea" stroke-width="1"/>
<path d="M483.6,520.5 L483.6,522.8" stroke="#12a4ea" stroke-width="1"/>
<path d="M500.4,520.5 L500.4,522.8" stroke="#12a4ea" stroke-width="1"/>
<path d="M517.2,520.5 L517.2,522.8" stroke="#12a4ea" stroke-width="1"/>
<path d="M534,520.5 L534,522.8" stroke="#12a4ea" stroke-width="1"/>
<path d="M550.8,520.5 L550.8,522.8" stroke="#12a4ea" stroke-width="1"/>
<path d="M567.6,520.5 L567.6,522.8" stroke="#12a4ea" stroke-width="1"/>
<path d="M584.4,520.5 L584.4,522.8" stroke="#12a4ea" stroke-width="1"/>
<path d="M601.2,520.5 L601.2,522.8" stroke="#12a4ea" stroke-width="1"/>
<path d="M618,520.5 L618,522.8" stroke="#12a4ea" stroke-width="1"/>
<path d="M634.8,520.5 L634.8,522.8" stroke="#12a4ea" stroke-width="1"/>
<path d="M651.6,520.5 L651.6,522.8" stroke="#12a4ea" stroke-width="1"/>
<path d="M668.4,520.5 L668.4,522.8" stroke="#12a4ea" stroke-width="1"/>
<path d="M685.2,520.5 L685.2,522.8" stroke="#12a4ea" stroke-width="1"/>
<path d="M702,520.5 L702,522.8" stroke="#12a4ea" stroke-width="1"/>
<path d="M620,391 L633,391" stroke="#80fcff" stroke-width="1"/><circle cx="626.6" cy="391" r="2.8" fill="#80fcff"/>
<path d="M664.5,391 L677.5,391" stroke="#ff4a1a" stroke-width="1"/><circle cx="671" cy="391" r="2.8" fill="#ff4a1a"/>
</svg>
<div class="t b" style="left:508.4px;top:1032.94px;width:80px;height:16.12px;line-height:16.12px;font-size:12.4px;color:#2ac6ff;text-align:right;">0</div>
<div class="t b" style="left:508.4px;top:1003.06px;width:80px;height:16.12px;line-height:16.12px;font-size:12.4px;color:#2ac6ff;text-align:right;">5000</div>
<div class="t b" style="left:508.4px;top:973.18px;width:80px;height:16.12px;line-height:16.12px;font-size:12.4px;color:#2ac6ff;text-align:right;">1万</div>
<div class="t b" style="left:508.4px;top:943.3px;width:80px;height:16.12px;line-height:16.12px;font-size:12.4px;color:#2ac6ff;text-align:right;">1.5万</div>
<div class="t b" style="left:508.4px;top:913.42px;width:80px;height:16.12px;line-height:16.12px;font-size:12.4px;color:#2ac6ff;text-align:right;">2万</div>
<div class="t b" style="left:508.4px;top:883.54px;width:80px;height:16.12px;line-height:16.12px;font-size:12.4px;color:#2ac6ff;text-align:right;">2.5万</div>
<div class="t b" style="left:508.4px;top:853.66px;width:80px;height:16.12px;line-height:16.12px;font-size:12.4px;color:#2ac6ff;text-align:right;">3万</div>
<div class="t b" style="left:508.4px;top:823.78px;width:80px;height:16.12px;line-height:16.12px;font-size:12.4px;color:#2ac6ff;text-align:right;">3.5万</div>
<div class="t b" style="left:570.8px;top:1046.94px;width:60px;height:16.12px;line-height:16.12px;font-size:12.4px;color:#2ac6ff;text-align:center;">0:0</div>
<div class="t b" style="left:604.4px;top:1046.94px;width:60px;height:16.12px;line-height:16.12px;font-size:12.4px;color:#2ac6ff;text-align:center;">1:0</div>
<div class="t b" style="left:638px;top:1046.94px;width:60px;height:16.12px;line-height:16.12px;font-size:12.4px;color:#2ac6ff;text-align:center;">2:0</div>
<div class="t b" style="left:671.6px;top:1046.94px;width:60px;height:16.12px;line-height:16.12px;font-size:12.4px;color:#2ac6ff;text-align:center;">3:0</div>
<div class="t b" style="left:705.2px;top:1046.94px;width:60px;height:16.12px;line-height:16.12px;font-size:12.4px;color:#2ac6ff;text-align:center;">4:0</div>
<div class="t b" style="left:738.8px;top:1046.94px;width:60px;height:16.12px;line-height:16.12px;font-size:12.4px;color:#2ac6ff;text-align:center;">5:0</div>
<div class="t b" style="left:772.4px;top:1046.94px;width:60px;height:16.12px;line-height:16.12px;font-size:12.4px;color:#2ac6ff;text-align:center;">6:0</div>
<div class="t b" style="left:806px;top:1046.94px;width:60px;height:16.12px;line-height:16.12px;font-size:12.4px;color:#2ac6ff;text-align:center;">7:0</div>
<div class="t b" style="left:839.6px;top:1046.94px;width:60px;height:16.12px;line-height:16.12px;font-size:12.4px;color:#2ac6ff;text-align:center;">8:0</div>
<div class="t b" style="left:873.2px;top:1046.94px;width:60px;height:16.12px;line-height:16.12px;font-size:12.4px;color:#2ac6ff;text-align:center;">9:0</div>
<div class="t b" style="left:906.8px;top:1046.94px;width:60px;height:16.12px;line-height:16.12px;font-size:12.4px;color:#2ac6ff;text-align:center;">10:0</div>
<div class="t b" style="left:940.4px;top:1046.94px;width:60px;height:16.12px;line-height:16.12px;font-size:12.4px;color:#2ac6ff;text-align:center;">11:0</div>
<div class="t b" style="left:974px;top:1046.94px;width:60px;height:16.12px;line-height:16.12px;font-size:12.4px;color:#2ac6ff;text-align:center;">12:0</div>
<div class="t b" style="left:1007.6px;top:1046.94px;width:60px;height:16.12px;line-height:16.12px;font-size:12.4px;color:#2ac6ff;text-align:center;">13:0</div>
<div class="t b" style="left:1041.2px;top:1046.94px;width:60px;height:16.12px;line-height:16.12px;font-size:12.4px;color:#2ac6ff;text-align:center;">14:0</div>
<div class="t b" style="left:1074.8px;top:1046.94px;width:60px;height:16.12px;line-height:16.12px;font-size:12.4px;color:#2ac6ff;text-align:center;">15:0</div>
<div class="t b" style="left:1108.4px;top:1046.94px;width:60px;height:16.12px;line-height:16.12px;font-size:12.4px;color:#2ac6ff;text-align:center;">16:0</div>
<div class="t b" style="left:1142px;top:1046.94px;width:60px;height:16.12px;line-height:16.12px;font-size:12.4px;color:#2ac6ff;text-align:center;">17:0</div>
<div class="t b" style="left:1175.6px;top:1046.94px;width:60px;height:16.12px;line-height:16.12px;font-size:12.4px;color:#2ac6ff;text-align:center;">18:0</div>
<div class="t b" style="left:1209.2px;top:1046.94px;width:60px;height:16.12px;line-height:16.12px;font-size:12.4px;color:#2ac6ff;text-align:center;">19:0</div>
<div class="t b" style="left:1242.8px;top:1046.94px;width:60px;height:16.12px;line-height:16.12px;font-size:12.4px;color:#2ac6ff;text-align:center;">20:0</div>
<div class="t b" style="left:1276.4px;top:1046.94px;width:60px;height:16.12px;line-height:16.12px;font-size:12.4px;color:#2ac6ff;text-align:center;">21:0</div>
<div class="t b" style="left:1310px;top:1046.94px;width:60px;height:16.12px;line-height:16.12px;font-size:12.4px;color:#2ac6ff;text-align:center;">22:0</div>
<div class="t b" style="left:1343.6px;top:1046.94px;width:60px;height:16.12px;line-height:16.12px;font-size:12.4px;color:#2ac6ff;text-align:center;">23:0</div>
<div class="t b" style="left:1270px;top:774.07px;width:80px;height:15.86px;line-height:15.86px;font-size:12.2px;color:#fff;text-align:left;">昨日负荷</div>
<div class="t b" style="left:1358px;top:774.07px;width:80px;height:15.86px;line-height:15.86px;font-size:12.2px;color:#fff;text-align:left;">今日负荷</div>
<div style="left:1490.6px;top:62px;width:399px;height:182.6px;background:rgba(0,0,0,.5);"></div>
<div style="left:1490.6px;top:62px;width:399px;height:40px;background:#000;"></div>
<div style="left:1501.6px;top:72px;width:9.2px;height:19.2px;background:#12ee12;"></div>
<div class="t b" style="left:1520.8px;top:70.77px;width:240px;height:18.46px;line-height:18.46px;font-size:14.2px;color:#fff;text-align:left;">骨料生产线总览</div>
<div class="t b" style="left:1384.6px;top:123.44px;width:400px;height:18.72px;line-height:18.72px;font-size:14.4px;color:#0cf4ff;text-align:center;">本月累计用电量</div>
<div class="t b" style="left:1563.6px;top:123.18px;width:400px;height:19.24px;line-height:19.24px;font-size:14.8px;color:#fff;text-align:center;">2266144 kWh</div>
<div style="left:1505.2px;top:161.4px;width:370.8px;height:3.2px;background:#19e0f2;"></div>
<div class="t b" style="left:1367.4px;top:173.04px;width:400px;height:18.72px;line-height:18.72px;font-size:14.4px;color:#0cf4ff;text-align:center;">石灰石产量</div>
<div class="t b" style="left:1367.4px;top:204.58px;width:400px;height:19.24px;line-height:19.24px;font-size:14.8px;color:#fff;text-align:center;">42107 t</div>
<div class="t b" style="left:1489.6px;top:173.04px;width:400px;height:18.72px;line-height:18.72px;font-size:14.4px;color:#0cf4ff;text-align:center;">骨料产量</div>
<div class="t b" style="left:1489.6px;top:204.58px;width:400px;height:19.24px;line-height:19.24px;font-size:14.8px;color:#fff;text-align:center;">29865 t</div>
<div class="t b" style="left:1611.8px;top:173.04px;width:400px;height:18.72px;line-height:18.72px;font-size:14.4px;color:#0cf4ff;text-align:center;">钙粉产量</div>
<div class="t b" style="left:1611.8px;top:204.58px;width:400px;height:19.24px;line-height:19.24px;font-size:14.8px;color:#fff;text-align:center;">15644 t</div>
<div style="left:1490.6px;top:266px;width:399px;height:283px;background:rgba(0,0,0,.5);"></div>
<div style="left:1490.6px;top:266px;width:399px;height:40px;background:#000;"></div>
<div style="left:1501.6px;top:276px;width:9.2px;height:19.2px;background:#12ee12;"></div>
<div class="t b" style="left:1520.8px;top:274.77px;width:240px;height:18.46px;line-height:18.46px;font-size:14.2px;color:#fff;text-align:left;">生产一线总览</div>
<div class="t b" style="left:1398.6px;top:327.64px;width:400px;height:18.72px;line-height:18.72px;font-size:14.4px;color:#0cf4ff;text-align:center;">本月累计用电量</div>
<div class="t b" style="left:1583.6px;top:327.64px;width:400px;height:18.72px;line-height:18.72px;font-size:14.4px;color:#0cf4ff;text-align:center;">本月累计用煤量</div>
<div class="t b" style="left:1399px;top:357.38px;width:400px;height:19.24px;line-height:19.24px;font-size:14.8px;color:#fff;text-align:center;">6646114 kWh</div>
<div class="t b" style="left:1582.6px;top:357.38px;width:400px;height:19.24px;line-height:19.24px;font-size:14.8px;color:#fff;text-align:center;">1121 t</div>
<div style="left:1505.4px;top:388.8px;width:122.8px;height:35.4px;border:3.2px solid #12eef5;border-radius:5.2px;"></div>
<div style="left:1505.4px;top:423px;width:122.8px;height:108.2px;border:3.2px solid #12eef5;border-radius:5.2px;"></div>
<div class="t b" style="left:1367.6px;top:394.28px;width:400px;height:19.24px;line-height:19.24px;font-size:14.8px;color:#0cf4ff;text-align:center;">生料工序</div>
<div class="t b" style="left:1513.4px;top:435.4px;width:60px;height:15.6px;line-height:15.6px;font-size:12px;color:#0cf4ff;text-align:left;">产量</div>
<div class="t b" style="left:1537px;top:434.88px;width:120px;height:16.64px;line-height:16.64px;font-size:12.8px;color:#fff;text-align:left;">163814 t</div>
<div class="t b" style="left:1513.4px;top:470.2px;width:60px;height:15.6px;line-height:15.6px;font-size:12px;color:#0cf4ff;text-align:left;">电耗</div>
<div class="t b" style="left:1548px;top:469.68px;width:120px;height:16.64px;line-height:16.64px;font-size:12.8px;color:#fff;text-align:left;">12.86 kWh/t</div>
<div class="t b" style="left:1513.4px;top:503.2px;width:60px;height:15.6px;line-height:15.6px;font-size:12px;color:#0cf4ff;text-align:left;">台时</div>
<div class="t b" style="left:1541px;top:502.68px;width:120px;height:16.64px;line-height:16.64px;font-size:12.8px;color:#fff;text-align:left;">312.62 t/h</div>
<div style="left:1627px;top:388.8px;width:123px;height:35.4px;border:3.2px solid #12eef5;border-radius:5.2px;"></div>
<div style="left:1627px;top:423px;width:123px;height:108.2px;border:3.2px solid #12eef5;border-radius:5.2px;"></div>
<div class="t b" style="left:1489.3px;top:394.28px;width:400px;height:19.24px;line-height:19.24px;font-size:14.8px;color:#0cf4ff;text-align:center;">熟料工序</div>
<div class="t b" style="left:1635px;top:429.4px;width:60px;height:15.6px;line-height:15.6px;font-size:12px;color:#0cf4ff;text-align:left;">产量</div>
<div class="t b" style="left:1663.6px;top:428.88px;width:120px;height:16.64px;line-height:16.64px;font-size:12.8px;color:#fff;text-align:left;">75894 t</div>
<div class="t b" style="left:1635px;top:455.2px;width:60px;height:15.6px;line-height:15.6px;font-size:12px;color:#0cf4ff;text-align:left;">电耗</div>
<div class="t b" style="left:1668.6px;top:454.68px;width:120px;height:16.64px;line-height:16.64px;font-size:12.8px;color:#fff;text-align:left;">31.47 kWh/t</div>
<div class="t b" style="left:1635px;top:481.2px;width:60px;height:15.6px;line-height:15.6px;font-size:12px;color:#0cf4ff;text-align:left;">煤耗</div>
<div class="t b" style="left:1673.6px;top:480.68px;width:120px;height:16.64px;line-height:16.64px;font-size:12.8px;color:#fff;text-align:left;">0.01 kg/t</div>
<div class="t b" style="left:1635px;top:506.6px;width:60px;height:15.6px;line-height:15.6px;font-size:12px;color:#0cf4ff;text-align:left;">台时</div>
<div class="t b" style="left:1661.6px;top:506.08px;width:120px;height:16.64px;line-height:16.64px;font-size:12.8px;color:#fff;text-align:left;">127.13 t/h</div>
<div style="left:1748.8px;top:388.8px;width:123.4px;height:35.4px;border:3.2px solid #12eef5;border-radius:5.2px;"></div>
<div style="left:1748.8px;top:423px;width:123.4px;height:108.2px;border:3.2px solid #12eef5;border-radius:5.2px;"></div>
<div class="t b" style="left:1611.3px;top:394.28px;width:400px;height:19.24px;line-height:19.24px;font-size:14.8px;color:#0cf4ff;text-align:center;">水泥工序</div>
<div class="t b" style="left:1756.8px;top:435.4px;width:60px;height:15.6px;line-height:15.6px;font-size:12px;color:#0cf4ff;text-align:left;">产量</div>
<div class="t b" style="left:1784.4px;top:434.88px;width:120px;height:16.64px;line-height:16.64px;font-size:12.8px;color:#fff;text-align:left;">46278 t</div>
<div class="t b" style="left:1756.8px;top:470.2px;width:60px;height:15.6px;line-height:15.6px;font-size:12px;color:#0cf4ff;text-align:left;">电耗</div>
<div class="t b" style="left:1792.4px;top:469.68px;width:120px;height:16.64px;line-height:16.64px;font-size:12.8px;color:#fff;text-align:left;">45.48 kWh/t</div>
<div class="t b" style="left:1756.8px;top:503.2px;width:60px;height:15.6px;line-height:15.6px;font-size:12px;color:#0cf4ff;text-align:left;">台时</div>
<div class="t b" style="left:1784.4px;top:502.68px;width:120px;height:16.64px;line-height:16.64px;font-size:12.8px;color:#fff;text-align:left;">107.87 t/h</div>
<div style="left:1490.6px;top:572px;width:399px;height:204px;background:rgba(0,0,0,.5);"></div>
<div style="left:1490.6px;top:572px;width:399px;height:40px;background:#000;"></div>
<div style="left:1501.6px;top:582px;width:9.2px;height:19.2px;background:#12ee12;"></div>
<div class="t b" style="left:1520.8px;top:580.77px;width:240px;height:18.46px;line-height:18.46px;font-size:14.2px;color:#fff;text-align:left;">生产二线总览</div>
<div class="t b" style="left:1398.6px;top:633.24px;width:400px;height:18.72px;line-height:18.72px;font-size:14.4px;color:#0cf4ff;text-align:center;">本月累计用电量</div>
<div class="t b" style="left:1583.6px;top:633.24px;width:400px;height:18.72px;line-height:18.72px;font-size:14.4px;color:#0cf4ff;text-align:center;">本月累计用煤量</div>
<div class="t b" style="left:1399px;top:662.78px;width:400px;height:19.24px;line-height:19.24px;font-size:14.8px;color:#fff;text-align:center;">2321860 kWh</div>
<div class="t b" style="left:1582.6px;top:662.78px;width:400px;height:19.24px;line-height:19.24px;font-size:14.8px;color:#fff;text-align:center;">8310 t</div>
<div style="left:1505.2px;top:701.8px;width:370.8px;height:3.2px;background:#19e0f2;"></div>
<div class="t b" style="left:1352.8px;top:715.04px;width:400px;height:18.72px;line-height:18.72px;font-size:14.4px;color:#0cf4ff;text-align:center;">熟料产量</div>
<div class="t b" style="left:1352.8px;top:744.58px;width:400px;height:19.24px;line-height:19.24px;font-size:14.8px;color:#fff;text-align:center;">62684 t</div>
<div class="t b" style="left:1445.2px;top:715.04px;width:400px;height:18.72px;line-height:18.72px;font-size:14.4px;color:#0cf4ff;text-align:center;">单位电耗</div>
<div class="t b" style="left:1445.2px;top:744.58px;width:400px;height:19.24px;line-height:19.24px;font-size:14.8px;color:#fff;text-align:center;">37.04 kWh/t</div>
<div class="t b" style="left:1537.4px;top:715.04px;width:400px;height:18.72px;line-height:18.72px;font-size:14.4px;color:#0cf4ff;text-align:center;">单位煤耗</div>
<div class="t b" style="left:1537.4px;top:744.58px;width:400px;height:19.24px;line-height:19.24px;font-size:14.8px;color:#fff;text-align:center;">0.13 kg/t</div>
<div class="t b" style="left:1630px;top:715.04px;width:400px;height:18.72px;line-height:18.72px;font-size:14.4px;color:#0cf4ff;text-align:center;">台时产量</div>
<div class="t b" style="left:1630px;top:744.58px;width:400px;height:19.24px;line-height:19.24px;font-size:14.8px;color:#fff;text-align:center;">123.39 t/h</div>
<div style="left:1490.6px;top:796.4px;width:399px;height:274px;background:rgba(0,0,0,.5);"></div>
<div style="left:1490.6px;top:796.4px;width:399px;height:40px;background:#000;"></div>
<div style="left:1501.6px;top:806.4px;width:9.2px;height:19.2px;background:#12ee12;"></div>
<div class="t b" style="left:1520.8px;top:805.17px;width:240px;height:18.46px;line-height:18.46px;font-size:14.2px;color:#fff;text-align:left;">生产三线总览</div>
<div class="t b" style="left:1398.6px;top:857.44px;width:400px;height:18.72px;line-height:18.72px;font-size:14.4px;color:#0cf4ff;text-align:center;">本月累计用电量</div>
<div class="t b" style="left:1583.6px;top:857.44px;width:400px;height:18.72px;line-height:18.72px;font-size:14.4px;color:#0cf4ff;text-align:center;">本月累计用煤量</div>
<div class="t b" style="left:1399px;top:886.98px;width:400px;height:19.24px;line-height:19.24px;font-size:14.8px;color:#fff;text-align:center;">12038947 kWh</div>
<div class="t b" style="left:1582.6px;top:886.98px;width:400px;height:19.24px;line-height:19.24px;font-size:14.8px;color:#fff;text-align:center;">18757 t</div>
<div style="left:1505.4px;top:917.6px;width:122.8px;height:36.6px;border:3.2px solid #12eef5;border-radius:5.2px;"></div>
<div style="left:1505.4px;top:953px;width:122.8px;height:107.4px;border:3.2px solid #12eef5;border-radius:5.2px;"></div>
<div class="t b" style="left:1367.6px;top:923.68px;width:400px;height:19.24px;line-height:19.24px;font-size:14.8px;color:#0cf4ff;text-align:center;">生料工序</div>
<div class="t b" style="left:1513.4px;top:965.4px;width:60px;height:15.6px;line-height:15.6px;font-size:12px;color:#0cf4ff;text-align:left;">产量</div>
<div class="t b" style="left:1537px;top:964.88px;width:120px;height:16.64px;line-height:16.64px;font-size:12.8px;color:#fff;text-align:left;">167451 t</div>
<div class="t b" style="left:1513.4px;top:1000.2px;width:60px;height:15.6px;line-height:15.6px;font-size:12px;color:#0cf4ff;text-align:left;">电耗</div>
<div class="t b" style="left:1548px;top:999.68px;width:120px;height:16.64px;line-height:16.64px;font-size:12.8px;color:#fff;text-align:left;">22.35 kWh/t</div>
<div class="t b" style="left:1513.4px;top:1033.2px;width:60px;height:15.6px;line-height:15.6px;font-size:12px;color:#0cf4ff;text-align:left;">台时</div>
<div class="t b" style="left:1541px;top:1032.68px;width:120px;height:16.64px;line-height:16.64px;font-size:12.8px;color:#fff;text-align:left;">299.02 t/h</div>
<div style="left:1627px;top:917.6px;width:123px;height:36.6px;border:3.2px solid #12eef5;border-radius:5.2px;"></div>
<div style="left:1627px;top:953px;width:123px;height:107.4px;border:3.2px solid #12eef5;border-radius:5.2px;"></div>
<div class="t b" style="left:1489.3px;top:923.68px;width:400px;height:19.24px;line-height:19.24px;font-size:14.8px;color:#0cf4ff;text-align:center;">熟料工序</div>
<div class="t b" style="left:1635px;top:959.4px;width:60px;height:15.6px;line-height:15.6px;font-size:12px;color:#0cf4ff;text-align:left;">产量</div>
<div class="t b" style="left:1658.6px;top:958.88px;width:120px;height:16.64px;line-height:16.64px;font-size:12.8px;color:#fff;text-align:left;">127880 t</div>
<div class="t b" style="left:1635px;top:985.2px;width:60px;height:15.6px;line-height:15.6px;font-size:12px;color:#0cf4ff;text-align:left;">电耗</div>
<div class="t b" style="left:1668.6px;top:984.68px;width:120px;height:16.64px;line-height:16.64px;font-size:12.8px;color:#fff;text-align:left;">34.19 kWh/t</div>
<div class="t b" style="left:1635px;top:1011.2px;width:60px;height:15.6px;line-height:15.6px;font-size:12px;color:#0cf4ff;text-align:left;">煤耗</div>
<div class="t b" style="left:1673.6px;top:1010.68px;width:120px;height:16.64px;line-height:16.64px;font-size:12.8px;color:#fff;text-align:left;">0.15 kg/t</div>
<div class="t b" style="left:1635px;top:1036.6px;width:60px;height:15.6px;line-height:15.6px;font-size:12px;color:#0cf4ff;text-align:left;">台时</div>
<div class="t b" style="left:1661.6px;top:1036.08px;width:120px;height:16.64px;line-height:16.64px;font-size:12.8px;color:#fff;text-align:left;">251.73 t/h</div>
<div style="left:1748.8px;top:917.6px;width:123.4px;height:36.6px;border:3.2px solid #12eef5;border-radius:5.2px;"></div>
<div style="left:1748.8px;top:953px;width:123.4px;height:107.4px;border:3.2px solid #12eef5;border-radius:5.2px;"></div>
<div class="t b" style="left:1611.3px;top:923.68px;width:400px;height:19.24px;line-height:19.24px;font-size:14.8px;color:#0cf4ff;text-align:center;">水泥工序</div>
<div class="t b" style="left:1756.8px;top:965.4px;width:60px;height:15.6px;line-height:15.6px;font-size:12px;color:#0cf4ff;text-align:left;">产量</div>
<div class="t b" style="left:1795.4px;top:964.88px;width:120px;height:16.64px;line-height:16.64px;font-size:12.8px;color:#fff;text-align:left;">0 t</div>
<div class="t b" style="left:1756.8px;top:1000.2px;width:60px;height:15.6px;line-height:15.6px;font-size:12px;color:#0cf4ff;text-align:left;">电耗</div>
<div class="t b" style="left:1795.4px;top:999.68px;width:120px;height:16.64px;line-height:16.64px;font-size:12.8px;color:#fff;text-align:left;">0 kWh/t</div>
<div class="t b" style="left:1756.8px;top:1033.2px;width:60px;height:15.6px;line-height:15.6px;font-size:12px;color:#0cf4ff;text-align:left;">台时</div>
<div class="t b" style="left:1795.4px;top:1032.68px;width:120px;height:16.64px;line-height:16.64px;font-size:12.8px;color:#fff;text-align:left;">0 t/h</div>
</div></body></html>
